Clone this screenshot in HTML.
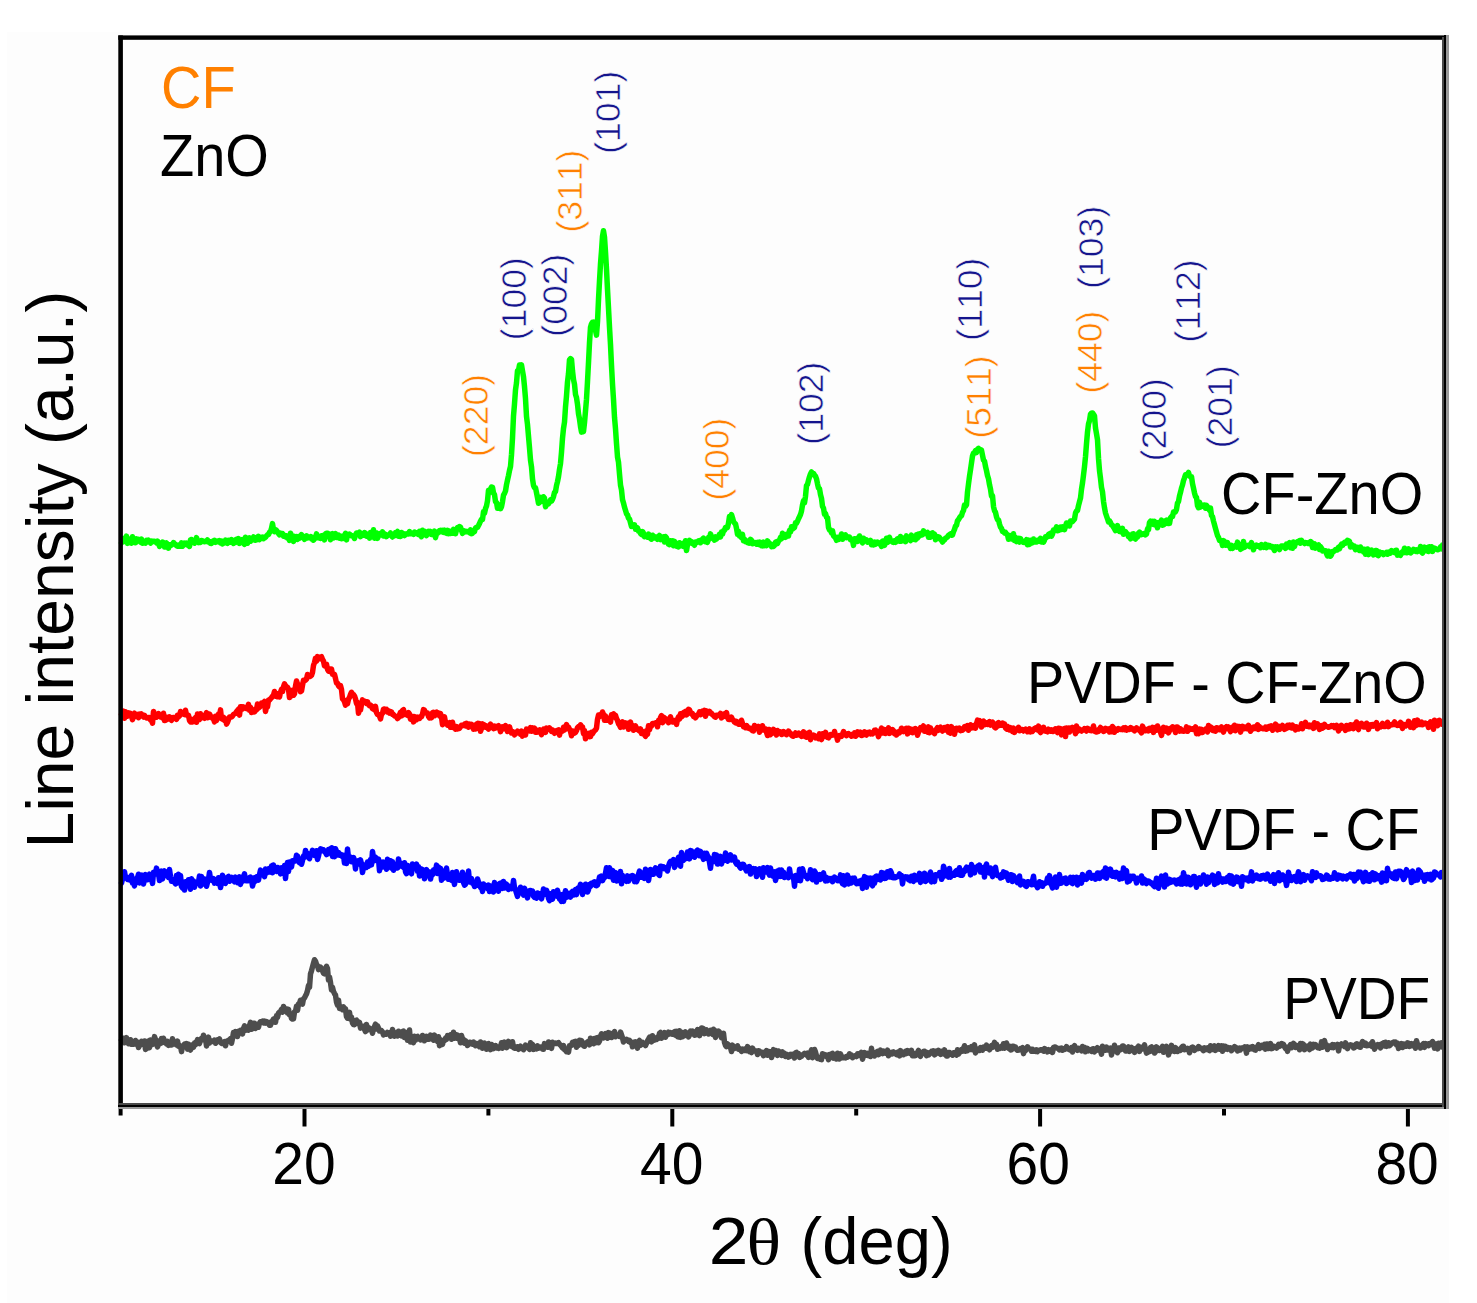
<!DOCTYPE html>
<html><head><meta charset="utf-8"><style>
html,body{margin:0;padding:0;background:#fff;width:1477px;height:1303px;overflow:hidden}
svg{display:block;position:absolute;left:0;top:0}
text{font-family:"Liberation Sans",sans-serif;font-kerning:none}
</style></head><body>
<svg width="1477" height="1303" viewBox="0 0 1477 1303">
<rect x="7" y="32" width="1442" height="1271" fill="#fdfdfd"/>
<g fill="none" stroke-width="5.5" stroke-linejoin="round" stroke-linecap="round">
<path d="M121.5,1040.1 122.5,1041.6 123.5,1038.2 124.5,1042.8 125.5,1040.3 126.5,1037.7 127.5,1040.3 128.5,1043.6 129.5,1043.2 130.5,1039.7 131.5,1044.3 132.5,1042.7 133.5,1044.2 134.5,1044.1 135.5,1040.5 136.5,1044.4 137.5,1042.1 138.5,1047.5 139.5,1045.6 140.5,1044.0 141.5,1041.4 142.5,1044.1 143.5,1044.4 144.5,1041.0 145.5,1049.5 146.5,1045.0 147.5,1048.2 148.5,1041.1 149.5,1047.7 150.5,1040.1 151.5,1041.6 152.5,1044.3 153.5,1042.8 154.5,1036.6 155.5,1039.4 156.5,1044.0 157.5,1046.9 158.5,1043.8 159.5,1040.8 160.5,1043.4 161.5,1038.6 162.5,1042.7 163.5,1038.2 164.5,1041.6 165.5,1041.5 166.5,1044.0 167.5,1041.4 168.5,1045.4 169.5,1042.1 170.5,1044.9 171.5,1045.0 172.5,1038.8 173.5,1043.7 174.5,1044.0 175.5,1042.2 176.5,1044.8 177.5,1041.1 178.5,1046.2 179.5,1046.4 180.5,1046.0 181.5,1051.6 182.5,1046.5 183.5,1045.9 184.5,1044.1 185.5,1046.7 186.5,1043.6 187.5,1049.1 188.5,1044.2 189.5,1046.0 190.5,1050.1 191.5,1047.6 192.5,1044.9 193.5,1047.2 194.5,1043.1 195.5,1044.7 196.5,1042.3 197.5,1039.6 198.5,1042.5 199.5,1043.5 200.5,1040.2 201.5,1038.3 202.5,1039.7 203.5,1035.2 204.5,1039.5 205.5,1038.4 206.5,1046.0 207.5,1039.6 208.5,1037.2 209.5,1043.1 210.5,1040.6 211.5,1041.1 212.5,1041.5 213.5,1041.5 214.5,1040.1 215.5,1043.3 216.5,1042.3 217.5,1039.9 218.5,1040.8 219.5,1039.0 220.5,1042.1 221.5,1043.4 222.5,1043.3 223.5,1043.4 224.5,1041.6 225.5,1045.8 226.5,1041.4 227.5,1041.7 228.5,1040.2 229.5,1040.4 230.5,1038.6 231.5,1043.2 232.5,1038.4 233.5,1032.5 234.5,1034.7 235.5,1031.5 236.5,1036.2 237.5,1036.5 238.5,1031.2 239.5,1033.0 240.5,1030.3 241.5,1031.2 242.5,1033.9 243.5,1028.5 244.5,1025.9 245.5,1030.3 246.5,1029.5 247.5,1029.5 248.5,1030.1 249.5,1025.6 250.5,1022.3 251.5,1029.3 252.5,1025.5 253.5,1023.3 254.5,1023.2 255.5,1028.5 256.5,1026.0 257.5,1026.0 258.5,1027.1 259.5,1023.1 260.5,1021.7 261.5,1022.1 262.5,1021.2 263.5,1022.9 264.5,1021.1 265.5,1023.1 266.5,1021.6 267.5,1022.3 268.5,1023.8 269.5,1025.3 270.5,1025.3 271.5,1021.4 272.5,1021.2 273.5,1019.0 274.5,1022.1 275.5,1022.3 276.5,1015.8 277.5,1017.5 278.5,1013.2 279.5,1012.1 280.5,1011.7 281.5,1009.4 282.5,1012.2 283.5,1006.5 284.5,1008.7 285.5,1010.6 286.5,1008.9 287.5,1013.0 288.5,1009.3 289.5,1014.7 290.5,1013.6 291.5,1018.5 292.5,1019.1 293.5,1018.9 294.5,1011.8 295.5,1011.2 296.5,1006.3 297.5,1010.3 298.5,1004.0 299.5,1003.3 300.5,1000.2 301.5,1003.1 302.5,1004.1 303.5,998.8 304.5,997.9 305.5,995.8 306.5,993.9 307.5,990.6 308.5,985.6 309.5,987.4 310.5,973.9 311.5,970.8 312.5,966.9 313.5,963.2 314.5,959.7 315.5,961.2 316.5,964.3 317.5,965.7 318.5,969.6 319.5,967.4 320.5,967.0 321.5,968.9 322.5,970.7 323.5,973.3 324.5,973.8 325.5,968.6 326.5,966.3 327.5,968.6 328.5,980.0 329.5,977.0 330.5,982.6 331.5,989.9 332.5,987.4 333.5,991.6 334.5,993.6 335.5,995.1 336.5,1002.2 337.5,1005.2 338.5,1000.2 339.5,1008.5 340.5,1006.7 341.5,1008.7 342.5,1009.6 343.5,1006.8 344.5,1009.8 345.5,1008.9 346.5,1016.6 347.5,1018.2 348.5,1014.3 349.5,1012.5 350.5,1019.2 351.5,1017.3 352.5,1023.0 353.5,1024.6 354.5,1024.7 355.5,1020.7 356.5,1020.1 357.5,1021.7 358.5,1023.7 359.5,1022.4 360.5,1028.1 361.5,1027.4 362.5,1026.4 363.5,1026.2 364.5,1029.3 365.5,1031.6 366.5,1024.4 367.5,1030.0 368.5,1029.1 369.5,1028.2 370.5,1029.1 371.5,1029.8 372.5,1033.3 373.5,1028.3 374.5,1026.5 375.5,1024.2 376.5,1028.9 377.5,1025.8 378.5,1028.1 379.5,1031.0 380.5,1030.6 381.5,1030.6 382.5,1031.9 383.5,1035.0 384.5,1033.0 385.5,1033.7 386.5,1034.2 387.5,1032.5 388.5,1034.1 389.5,1032.8 390.5,1036.1 391.5,1034.7 392.5,1029.5 393.5,1033.1 394.5,1036.2 395.5,1033.1 396.5,1032.6 397.5,1036.0 398.5,1031.2 399.5,1033.9 400.5,1035.2 401.5,1035.8 402.5,1031.5 403.5,1031.1 404.5,1037.5 405.5,1032.4 406.5,1034.2 407.5,1040.3 408.5,1033.8 409.5,1030.0 410.5,1041.9 411.5,1038.1 412.5,1036.8 413.5,1042.7 414.5,1036.3 415.5,1040.1 416.5,1036.9 417.5,1036.3 418.5,1038.5 419.5,1039.0 420.5,1039.9 421.5,1039.5 422.5,1035.5 423.5,1036.3 424.5,1040.8 425.5,1037.6 426.5,1036.3 427.5,1039.1 428.5,1039.3 429.5,1039.1 430.5,1035.1 431.5,1035.8 432.5,1038.8 433.5,1040.2 434.5,1035.1 435.5,1037.2 436.5,1038.2 437.5,1041.4 438.5,1036.8 439.5,1045.7 440.5,1039.7 441.5,1040.9 442.5,1044.4 443.5,1040.6 444.5,1040.6 445.5,1038.2 446.5,1039.4 447.5,1035.6 448.5,1037.5 449.5,1037.5 450.5,1034.8 451.5,1039.2 452.5,1037.7 453.5,1032.3 454.5,1038.3 455.5,1034.5 456.5,1038.1 457.5,1035.2 458.5,1036.6 459.5,1038.8 460.5,1042.8 461.5,1035.5 462.5,1038.7 463.5,1039.3 464.5,1043.2 465.5,1040.7 466.5,1042.8 467.5,1045.4 468.5,1044.6 469.5,1042.2 470.5,1042.5 471.5,1043.0 472.5,1044.2 473.5,1042.1 474.5,1044.1 475.5,1045.7 476.5,1043.4 477.5,1043.6 478.5,1045.4 479.5,1046.7 480.5,1042.0 481.5,1042.9 482.5,1048.2 483.5,1045.3 484.5,1043.0 485.5,1045.8 486.5,1049.3 487.5,1044.3 488.5,1043.6 489.5,1045.3 490.5,1049.6 491.5,1044.5 492.5,1047.3 493.5,1048.5 494.5,1047.7 495.5,1045.5 496.5,1047.9 497.5,1046.8 498.5,1048.4 499.5,1047.5 500.5,1047.0 501.5,1042.8 502.5,1048.2 503.5,1046.5 504.5,1042.1 505.5,1046.8 506.5,1047.6 507.5,1046.7 508.5,1041.4 509.5,1045.3 510.5,1044.8 511.5,1046.3 512.5,1041.8 513.5,1047.6 514.5,1048.2 515.5,1048.3 516.5,1046.9 517.5,1046.8 518.5,1049.3 519.5,1048.0 520.5,1046.1 521.5,1047.7 522.5,1048.6 523.5,1049.7 524.5,1048.1 525.5,1045.2 526.5,1045.9 527.5,1047.5 528.5,1047.7 529.5,1049.3 530.5,1042.8 531.5,1045.4 532.5,1044.4 533.5,1049.4 534.5,1048.7 535.5,1047.8 536.5,1048.8 537.5,1045.8 538.5,1048.2 539.5,1047.2 540.5,1047.2 541.5,1046.8 542.5,1049.1 543.5,1049.3 544.5,1043.6 545.5,1045.4 546.5,1046.4 547.5,1047.2 548.5,1042.0 549.5,1043.2 550.5,1044.2 551.5,1048.4 552.5,1042.2 553.5,1042.9 554.5,1043.5 555.5,1043.1 556.5,1043.5 557.5,1043.0 558.5,1042.6 559.5,1044.2 560.5,1045.1 561.5,1046.5 562.5,1047.9 563.5,1045.6 564.5,1049.6 565.5,1050.2 566.5,1051.7 567.5,1051.1 568.5,1052.1 569.5,1045.7 570.5,1045.8 571.5,1045.3 572.5,1042.3 573.5,1042.3 574.5,1041.7 575.5,1041.4 576.5,1047.3 577.5,1042.1 578.5,1045.4 579.5,1040.3 580.5,1042.7 581.5,1040.7 582.5,1042.8 583.5,1045.7 584.5,1046.2 585.5,1043.7 586.5,1042.9 587.5,1041.9 588.5,1042.7 589.5,1044.8 590.5,1038.2 591.5,1041.0 592.5,1039.5 593.5,1043.7 594.5,1038.5 595.5,1042.7 596.5,1037.9 597.5,1037.6 598.5,1042.7 599.5,1041.1 600.5,1036.3 601.5,1033.9 602.5,1035.1 603.5,1037.9 604.5,1036.1 605.5,1033.7 606.5,1036.6 607.5,1038.2 608.5,1032.6 609.5,1034.9 610.5,1033.3 611.5,1037.5 612.5,1035.4 613.5,1033.7 614.5,1031.6 615.5,1036.7 616.5,1034.7 617.5,1035.6 618.5,1035.0 619.5,1036.4 620.5,1032.1 621.5,1034.7 622.5,1037.9 623.5,1042.0 624.5,1039.7 625.5,1039.7 626.5,1039.3 627.5,1040.0 628.5,1041.4 629.5,1040.4 630.5,1042.5 631.5,1042.4 632.5,1046.8 633.5,1042.4 634.5,1045.0 635.5,1041.8 636.5,1044.9 637.5,1048.2 638.5,1041.7 639.5,1040.5 640.5,1045.3 641.5,1043.2 642.5,1042.5 643.5,1044.1 644.5,1043.6 645.5,1045.5 646.5,1043.4 647.5,1040.8 648.5,1039.1 649.5,1037.2 650.5,1037.9 651.5,1041.9 652.5,1035.7 653.5,1038.2 654.5,1040.0 655.5,1038.0 656.5,1039.4 657.5,1037.1 658.5,1038.4 659.5,1033.4 660.5,1032.5 661.5,1038.3 662.5,1034.8 663.5,1034.1 664.5,1032.6 665.5,1037.2 666.5,1034.8 667.5,1034.7 668.5,1032.2 669.5,1033.8 670.5,1032.6 671.5,1033.3 672.5,1034.2 673.5,1032.4 674.5,1031.7 675.5,1035.2 676.5,1031.4 677.5,1036.6 678.5,1037.0 679.5,1030.8 680.5,1037.4 681.5,1032.2 682.5,1036.8 683.5,1032.8 684.5,1035.7 685.5,1031.8 686.5,1035.3 687.5,1033.9 688.5,1036.9 689.5,1034.9 690.5,1031.1 691.5,1033.5 692.5,1031.1 693.5,1032.6 694.5,1035.2 695.5,1035.1 696.5,1031.9 697.5,1029.6 698.5,1031.4 699.5,1035.6 700.5,1030.8 701.5,1028.0 702.5,1028.2 703.5,1028.7 704.5,1033.6 705.5,1030.7 706.5,1029.9 707.5,1032.4 708.5,1033.9 709.5,1031.7 710.5,1030.5 711.5,1032.8 712.5,1034.3 713.5,1029.3 714.5,1030.1 715.5,1037.5 716.5,1034.4 717.5,1034.6 718.5,1031.1 719.5,1032.2 720.5,1034.1 721.5,1037.8 722.5,1035.9 723.5,1033.3 724.5,1042.4 725.5,1045.5 726.5,1046.7 727.5,1043.8 728.5,1045.2 729.5,1046.4 730.5,1047.6 731.5,1051.5 732.5,1045.1 733.5,1046.7 734.5,1048.4 735.5,1047.4 736.5,1047.7 737.5,1045.8 738.5,1049.2 739.5,1048.6 740.5,1049.7 741.5,1051.4 742.5,1049.0 743.5,1049.5 744.5,1050.4 745.5,1049.0 746.5,1050.5 747.5,1046.6 748.5,1048.6 749.5,1051.6 750.5,1051.1 751.5,1052.5 752.5,1048.1 753.5,1050.0 754.5,1051.0 755.5,1051.1 756.5,1051.0 757.5,1054.5 758.5,1050.7 759.5,1051.1 760.5,1053.0 761.5,1053.0 762.5,1052.4 763.5,1055.7 764.5,1053.5 765.5,1052.0 766.5,1050.6 767.5,1055.2 768.5,1051.5 769.5,1053.7 770.5,1051.9 771.5,1057.5 772.5,1054.7 773.5,1049.6 774.5,1053.9 775.5,1050.5 776.5,1052.3 777.5,1055.3 778.5,1051.0 779.5,1054.4 780.5,1053.7 781.5,1055.4 782.5,1051.9 783.5,1055.3 784.5,1053.3 785.5,1056.3 786.5,1054.3 787.5,1055.6 788.5,1057.1 789.5,1056.6 790.5,1054.4 791.5,1055.9 792.5,1054.5 793.5,1055.4 794.5,1058.0 795.5,1052.9 796.5,1052.3 797.5,1055.7 798.5,1053.6 799.5,1057.4 800.5,1056.7 801.5,1056.2 802.5,1054.9 803.5,1054.1 804.5,1053.3 805.5,1054.0 806.5,1055.1 807.5,1053.2 808.5,1057.4 809.5,1056.6 810.5,1052.6 811.5,1049.8 812.5,1057.7 813.5,1052.9 814.5,1049.5 815.5,1052.1 816.5,1056.0 817.5,1058.4 818.5,1057.5 819.5,1058.7 820.5,1059.4 821.5,1059.6 822.5,1053.8 823.5,1055.4 824.5,1054.6 825.5,1056.0 826.5,1055.2 827.5,1056.5 828.5,1059.7 829.5,1054.5 830.5,1057.5 831.5,1054.0 832.5,1053.3 833.5,1058.1 834.5,1055.7 835.5,1056.1 836.5,1059.0 837.5,1053.3 838.5,1056.2 839.5,1059.0 840.5,1053.9 841.5,1056.5 842.5,1057.8 843.5,1057.8 844.5,1057.2 845.5,1057.8 846.5,1056.7 847.5,1057.3 848.5,1056.4 849.5,1053.8 850.5,1055.8 851.5,1055.2 852.5,1057.7 853.5,1056.4 854.5,1056.3 855.5,1055.6 856.5,1056.5 857.5,1053.9 858.5,1055.5 859.5,1053.5 860.5,1054.1 861.5,1052.5 862.5,1059.2 863.5,1055.8 864.5,1052.6 865.5,1053.7 866.5,1055.0 867.5,1053.4 868.5,1055.7 869.5,1055.0 870.5,1056.4 871.5,1048.3 872.5,1055.5 873.5,1054.4 874.5,1055.9 875.5,1052.6 876.5,1052.2 877.5,1051.4 878.5,1054.6 879.5,1053.9 880.5,1050.1 881.5,1052.4 882.5,1053.5 883.5,1051.1 884.5,1052.8 885.5,1053.3 886.5,1052.3 887.5,1050.2 888.5,1055.8 889.5,1053.9 890.5,1054.1 891.5,1052.3 892.5,1053.8 893.5,1052.0 894.5,1053.1 895.5,1053.7 896.5,1054.5 897.5,1052.2 898.5,1051.8 899.5,1055.9 900.5,1050.6 901.5,1053.7 902.5,1053.1 903.5,1054.7 904.5,1052.5 905.5,1051.3 906.5,1053.6 907.5,1050.6 908.5,1051.2 909.5,1053.2 910.5,1053.5 911.5,1050.4 912.5,1055.8 913.5,1053.2 914.5,1055.7 915.5,1055.5 916.5,1053.4 917.5,1052.5 918.5,1050.4 919.5,1055.2 920.5,1056.3 921.5,1053.6 922.5,1053.4 923.5,1051.4 924.5,1051.2 925.5,1053.0 926.5,1055.6 927.5,1052.7 928.5,1055.0 929.5,1054.0 930.5,1053.0 931.5,1051.5 932.5,1052.4 933.5,1050.8 934.5,1054.9 935.5,1054.1 936.5,1051.2 937.5,1051.8 938.5,1050.5 939.5,1053.4 940.5,1054.3 941.5,1051.3 942.5,1052.2 943.5,1053.8 944.5,1049.8 945.5,1053.5 946.5,1056.0 947.5,1056.1 948.5,1052.5 949.5,1052.6 950.5,1054.1 951.5,1053.8 952.5,1055.2 953.5,1052.7 954.5,1052.8 955.5,1052.6 956.5,1055.1 957.5,1049.8 958.5,1054.1 959.5,1051.9 960.5,1051.9 961.5,1049.6 962.5,1051.0 963.5,1049.2 964.5,1045.7 965.5,1051.2 966.5,1048.0 967.5,1050.6 968.5,1047.8 969.5,1049.5 970.5,1049.3 971.5,1046.6 972.5,1049.8 973.5,1048.5 974.5,1044.8 975.5,1052.9 976.5,1050.1 977.5,1049.7 978.5,1049.0 979.5,1050.4 980.5,1047.7 981.5,1049.9 982.5,1050.2 983.5,1047.2 984.5,1048.2 985.5,1048.2 986.5,1045.0 987.5,1048.4 988.5,1047.4 989.5,1049.8 990.5,1047.7 991.5,1045.6 992.5,1047.4 993.5,1046.1 994.5,1042.4 995.5,1046.5 996.5,1044.3 997.5,1049.2 998.5,1047.3 999.5,1048.4 1000.5,1047.3 1001.5,1046.3 1002.5,1048.0 1003.5,1043.7 1004.5,1048.2 1005.5,1046.5 1006.5,1043.0 1007.5,1046.6 1008.5,1048.2 1009.5,1046.2 1010.5,1049.9 1011.5,1049.8 1012.5,1046.3 1013.5,1046.2 1014.5,1047.4 1015.5,1047.0 1016.5,1049.5 1017.5,1050.3 1018.5,1049.7 1019.5,1049.9 1020.5,1048.6 1021.5,1048.6 1022.5,1047.7 1023.5,1053.6 1024.5,1051.1 1025.5,1050.6 1026.5,1048.3 1027.5,1046.8 1028.5,1048.3 1029.5,1049.0 1030.5,1049.2 1031.5,1051.2 1032.5,1049.3 1033.5,1051.3 1034.5,1051.1 1035.5,1051.4 1036.5,1049.9 1037.5,1051.6 1038.5,1050.4 1039.5,1050.4 1040.5,1049.7 1041.5,1049.8 1042.5,1050.4 1043.5,1051.2 1044.5,1048.6 1045.5,1049.3 1046.5,1049.9 1047.5,1051.9 1048.5,1049.7 1049.5,1050.9 1050.5,1051.4 1051.5,1049.6 1052.5,1052.5 1053.5,1047.6 1054.5,1046.9 1055.5,1047.2 1056.5,1047.8 1057.5,1048.2 1058.5,1048.7 1059.5,1049.9 1060.5,1048.3 1061.5,1048.1 1062.5,1050.2 1063.5,1048.8 1064.5,1049.5 1065.5,1048.3 1066.5,1046.6 1067.5,1049.0 1068.5,1048.9 1069.5,1049.8 1070.5,1049.1 1071.5,1047.6 1072.5,1052.0 1073.5,1046.9 1074.5,1045.7 1075.5,1048.0 1076.5,1048.3 1077.5,1050.3 1078.5,1048.3 1079.5,1049.4 1080.5,1049.9 1081.5,1050.8 1082.5,1046.5 1083.5,1050.1 1084.5,1047.3 1085.5,1051.8 1086.5,1048.3 1087.5,1048.5 1088.5,1050.8 1089.5,1049.8 1090.5,1049.7 1091.5,1051.3 1092.5,1049.0 1093.5,1048.8 1094.5,1051.9 1095.5,1049.0 1096.5,1050.3 1097.5,1047.7 1098.5,1049.9 1099.5,1049.4 1100.5,1050.7 1101.5,1054.2 1102.5,1046.3 1103.5,1048.1 1104.5,1049.3 1105.5,1050.2 1106.5,1047.1 1107.5,1049.8 1108.5,1048.3 1109.5,1050.0 1110.5,1048.0 1111.5,1055.0 1112.5,1050.2 1113.5,1051.1 1114.5,1045.3 1115.5,1048.2 1116.5,1049.3 1117.5,1052.8 1118.5,1048.0 1119.5,1050.3 1120.5,1047.8 1121.5,1049.3 1122.5,1045.9 1123.5,1045.9 1124.5,1048.0 1125.5,1051.0 1126.5,1050.9 1127.5,1049.0 1128.5,1046.9 1129.5,1051.4 1130.5,1048.6 1131.5,1047.5 1132.5,1048.5 1133.5,1048.7 1134.5,1052.4 1135.5,1049.1 1136.5,1048.1 1137.5,1048.3 1138.5,1046.2 1139.5,1051.4 1140.5,1047.2 1141.5,1049.3 1142.5,1047.2 1143.5,1047.5 1144.5,1044.9 1145.5,1049.1 1146.5,1053.1 1147.5,1052.4 1148.5,1049.8 1149.5,1051.6 1150.5,1047.6 1151.5,1046.9 1152.5,1051.2 1153.5,1047.8 1154.5,1053.0 1155.5,1051.7 1156.5,1046.9 1157.5,1048.4 1158.5,1048.4 1159.5,1050.5 1160.5,1048.4 1161.5,1049.1 1162.5,1046.4 1163.5,1052.2 1164.5,1050.9 1165.5,1049.4 1166.5,1046.3 1167.5,1049.6 1168.5,1054.9 1169.5,1050.1 1170.5,1051.6 1171.5,1045.4 1172.5,1048.8 1173.5,1049.0 1174.5,1051.4 1175.5,1047.6 1176.5,1051.0 1177.5,1051.5 1178.5,1049.6 1179.5,1049.2 1180.5,1050.3 1181.5,1047.6 1182.5,1046.5 1183.5,1046.3 1184.5,1049.8 1185.5,1048.9 1186.5,1049.2 1187.5,1048.4 1188.5,1049.2 1189.5,1052.8 1190.5,1048.8 1191.5,1047.7 1192.5,1047.1 1193.5,1047.5 1194.5,1050.3 1195.5,1048.9 1196.5,1048.5 1197.5,1048.8 1198.5,1046.5 1199.5,1047.5 1200.5,1048.4 1201.5,1048.3 1202.5,1049.5 1203.5,1050.7 1204.5,1047.8 1205.5,1049.5 1206.5,1049.6 1207.5,1047.8 1208.5,1049.9 1209.5,1050.6 1210.5,1045.8 1211.5,1049.5 1212.5,1049.5 1213.5,1049.3 1214.5,1045.8 1215.5,1050.4 1216.5,1048.3 1217.5,1047.0 1218.5,1045.6 1219.5,1049.2 1220.5,1048.1 1221.5,1045.8 1222.5,1051.3 1223.5,1046.0 1224.5,1049.4 1225.5,1046.4 1226.5,1047.8 1227.5,1049.3 1228.5,1047.6 1229.5,1049.0 1230.5,1048.0 1231.5,1050.7 1232.5,1049.3 1233.5,1048.8 1234.5,1046.6 1235.5,1047.1 1236.5,1048.2 1237.5,1050.9 1238.5,1050.5 1239.5,1048.1 1240.5,1049.8 1241.5,1047.9 1242.5,1048.0 1243.5,1047.7 1244.5,1047.0 1245.5,1048.5 1246.5,1053.1 1247.5,1046.9 1248.5,1049.5 1249.5,1049.0 1250.5,1047.5 1251.5,1048.7 1252.5,1046.5 1253.5,1047.5 1254.5,1049.9 1255.5,1050.1 1256.5,1047.2 1257.5,1046.9 1258.5,1044.7 1259.5,1048.5 1260.5,1046.1 1261.5,1045.5 1262.5,1047.4 1263.5,1046.9 1264.5,1044.4 1265.5,1049.1 1266.5,1043.9 1267.5,1043.9 1268.5,1048.5 1269.5,1046.2 1270.5,1043.6 1271.5,1048.6 1272.5,1048.3 1273.5,1046.3 1274.5,1046.5 1275.5,1046.9 1276.5,1048.1 1277.5,1046.3 1278.5,1044.5 1279.5,1046.3 1280.5,1045.6 1281.5,1043.5 1282.5,1045.5 1283.5,1044.5 1284.5,1046.6 1285.5,1048.5 1286.5,1047.2 1287.5,1051.4 1288.5,1047.1 1289.5,1046.6 1290.5,1044.7 1291.5,1047.8 1292.5,1046.9 1293.5,1043.3 1294.5,1045.1 1295.5,1047.4 1296.5,1045.4 1297.5,1046.9 1298.5,1046.6 1299.5,1049.8 1300.5,1043.5 1301.5,1045.8 1302.5,1043.7 1303.5,1044.5 1304.5,1049.6 1305.5,1047.7 1306.5,1047.1 1307.5,1045.9 1308.5,1046.1 1309.5,1049.6 1310.5,1044.1 1311.5,1048.3 1312.5,1047.9 1313.5,1044.3 1314.5,1046.4 1315.5,1044.7 1316.5,1046.0 1317.5,1047.5 1318.5,1046.4 1319.5,1048.1 1320.5,1047.2 1321.5,1041.9 1322.5,1047.3 1323.5,1043.5 1324.5,1040.6 1325.5,1045.2 1326.5,1044.8 1327.5,1049.5 1328.5,1047.6 1329.5,1047.3 1330.5,1045.8 1331.5,1047.3 1332.5,1044.5 1333.5,1047.7 1334.5,1044.9 1335.5,1045.4 1336.5,1046.2 1337.5,1044.4 1338.5,1050.9 1339.5,1046.0 1340.5,1044.9 1341.5,1043.9 1342.5,1044.4 1343.5,1045.5 1344.5,1046.5 1345.5,1042.9 1346.5,1044.7 1347.5,1048.7 1348.5,1046.0 1349.5,1045.5 1350.5,1044.8 1351.5,1045.1 1352.5,1045.7 1353.5,1047.9 1354.5,1047.8 1355.5,1044.5 1356.5,1043.9 1357.5,1046.2 1358.5,1044.4 1359.5,1047.1 1360.5,1047.3 1361.5,1044.0 1362.5,1041.6 1363.5,1042.9 1364.5,1045.1 1365.5,1043.2 1366.5,1045.8 1367.5,1045.6 1368.5,1045.3 1369.5,1044.9 1370.5,1043.9 1371.5,1046.2 1372.5,1041.8 1373.5,1045.9 1374.5,1049.1 1375.5,1047.4 1376.5,1045.1 1377.5,1044.6 1378.5,1045.7 1379.5,1044.8 1380.5,1047.9 1381.5,1044.1 1382.5,1044.7 1383.5,1042.9 1384.5,1046.0 1385.5,1042.2 1386.5,1046.4 1387.5,1045.9 1388.5,1042.7 1389.5,1045.7 1390.5,1044.5 1391.5,1044.0 1392.5,1042.6 1393.5,1042.1 1394.5,1042.4 1395.5,1042.0 1396.5,1044.9 1397.5,1043.1 1398.5,1048.5 1399.5,1045.5 1400.5,1046.8 1401.5,1043.6 1402.5,1047.5 1403.5,1044.0 1404.5,1046.5 1405.5,1045.4 1406.5,1046.0 1407.5,1042.8 1408.5,1043.1 1409.5,1046.4 1410.5,1045.5 1411.5,1043.7 1412.5,1045.7 1413.5,1044.9 1414.5,1043.7 1415.5,1048.2 1416.5,1040.7 1417.5,1044.2 1418.5,1046.2 1419.5,1045.4 1420.5,1048.0 1421.5,1045.7 1422.5,1045.5 1423.5,1043.5 1424.5,1047.4 1425.5,1043.6 1426.5,1044.0 1427.5,1044.0 1428.5,1045.7 1429.5,1043.6 1430.5,1044.5 1431.5,1043.7 1432.5,1041.6 1433.5,1043.4 1434.5,1048.1 1435.5,1043.9 1436.5,1044.8 1437.5,1048.9 1438.5,1043.2 1439.5,1045.7 1440.5,1046.6 1441.5,1042.9 1442.5,1047.1" stroke="#4d4d4d"/>
<path d="M121.5,883.0 122.5,878.8 123.5,878.2 124.5,871.8 125.5,877.9 126.5,878.0 127.5,879.3 128.5,877.6 129.5,879.8 130.5,878.3 131.5,875.4 132.5,883.1 133.5,883.0 134.5,885.9 135.5,880.0 136.5,878.4 137.5,877.8 138.5,874.2 139.5,883.0 140.5,875.6 141.5,875.2 142.5,878.4 143.5,884.0 144.5,879.4 145.5,874.6 146.5,875.4 147.5,879.7 148.5,876.6 149.5,874.2 150.5,875.9 151.5,879.1 152.5,883.4 153.5,872.2 154.5,874.3 155.5,873.7 156.5,868.1 157.5,873.4 158.5,873.1 159.5,880.6 160.5,876.2 161.5,871.1 162.5,879.0 163.5,875.6 164.5,870.9 165.5,874.9 166.5,875.0 167.5,874.1 168.5,877.4 169.5,869.6 170.5,876.5 171.5,881.1 172.5,880.6 173.5,881.7 174.5,882.1 175.5,883.8 176.5,875.4 177.5,882.9 178.5,874.3 179.5,879.4 180.5,875.6 181.5,886.5 182.5,888.0 183.5,883.1 184.5,890.1 185.5,881.7 186.5,884.4 187.5,884.2 188.5,879.7 189.5,884.5 190.5,889.3 191.5,878.7 192.5,885.0 193.5,881.0 194.5,887.3 195.5,882.6 196.5,883.2 197.5,883.0 198.5,881.7 199.5,876.1 200.5,885.9 201.5,876.6 202.5,882.3 203.5,883.8 204.5,879.0 205.5,882.6 206.5,886.3 207.5,882.3 208.5,879.4 209.5,872.5 210.5,879.1 211.5,880.3 212.5,880.5 213.5,878.7 214.5,883.1 215.5,879.6 216.5,881.0 217.5,883.4 218.5,877.8 219.5,879.4 220.5,887.6 221.5,882.9 222.5,875.2 223.5,879.2 224.5,881.2 225.5,883.4 226.5,879.6 227.5,877.2 228.5,876.5 229.5,881.2 230.5,880.2 231.5,877.4 232.5,878.6 233.5,877.9 234.5,881.9 235.5,877.1 236.5,881.2 237.5,882.5 238.5,881.4 239.5,876.9 240.5,884.4 241.5,877.5 242.5,881.3 243.5,877.2 244.5,873.8 245.5,880.5 246.5,880.7 247.5,879.5 248.5,880.7 249.5,877.5 250.5,877.1 251.5,879.0 252.5,886.1 253.5,882.3 254.5,877.7 255.5,881.0 256.5,876.9 257.5,876.3 258.5,880.1 259.5,874.7 260.5,870.1 261.5,872.0 262.5,874.5 263.5,873.8 264.5,876.6 265.5,869.1 266.5,873.2 267.5,871.4 268.5,868.9 269.5,871.9 270.5,870.7 271.5,866.1 272.5,872.8 273.5,865.1 274.5,869.6 275.5,869.6 276.5,871.3 277.5,867.5 278.5,870.1 279.5,869.9 280.5,873.9 281.5,867.9 282.5,870.8 283.5,869.6 284.5,865.6 285.5,878.5 286.5,868.3 287.5,862.6 288.5,871.4 289.5,862.0 290.5,866.0 291.5,866.8 292.5,860.9 293.5,861.1 294.5,860.1 295.5,860.9 296.5,855.3 297.5,856.1 298.5,859.3 299.5,862.8 300.5,861.0 301.5,864.3 302.5,860.5 303.5,856.0 304.5,857.1 305.5,850.4 306.5,853.8 307.5,853.3 308.5,857.5 309.5,858.6 310.5,854.2 311.5,853.9 312.5,850.3 313.5,854.8 314.5,855.5 315.5,855.6 316.5,850.7 317.5,859.4 318.5,856.0 319.5,851.0 320.5,848.9 321.5,849.2 322.5,850.6 323.5,849.9 324.5,851.6 325.5,852.6 326.5,854.6 327.5,853.9 328.5,849.6 329.5,851.3 330.5,848.7 331.5,848.0 332.5,856.4 333.5,848.5 334.5,856.7 335.5,848.8 336.5,851.3 337.5,855.0 338.5,852.5 339.5,855.1 340.5,854.3 341.5,854.7 342.5,856.6 343.5,855.3 344.5,863.1 345.5,857.2 346.5,863.6 347.5,848.9 348.5,858.0 349.5,859.9 350.5,857.1 351.5,861.8 352.5,860.4 353.5,857.5 354.5,860.2 355.5,868.9 356.5,861.2 357.5,862.5 358.5,861.0 359.5,863.9 360.5,859.8 361.5,863.8 362.5,872.6 363.5,867.4 364.5,865.2 365.5,865.7 366.5,867.3 367.5,862.1 368.5,866.3 369.5,862.6 370.5,859.6 371.5,864.9 372.5,851.4 373.5,857.6 374.5,860.7 375.5,857.1 376.5,860.0 377.5,858.8 378.5,859.1 379.5,870.7 380.5,864.1 381.5,862.2 382.5,867.0 383.5,862.1 384.5,866.2 385.5,864.7 386.5,869.2 387.5,859.3 388.5,866.8 389.5,864.8 390.5,860.7 391.5,868.2 392.5,861.8 393.5,870.2 394.5,866.6 395.5,867.2 396.5,865.2 397.5,868.0 398.5,858.9 399.5,865.4 400.5,863.1 401.5,866.2 402.5,865.2 403.5,867.4 404.5,862.7 405.5,871.8 406.5,873.6 407.5,865.4 408.5,866.4 409.5,867.7 410.5,871.3 411.5,873.8 412.5,863.9 413.5,866.3 414.5,865.3 415.5,865.5 416.5,864.2 417.5,871.3 418.5,866.7 419.5,876.0 420.5,874.7 421.5,869.0 422.5,869.6 423.5,871.6 424.5,878.8 425.5,871.6 426.5,869.6 427.5,874.2 428.5,875.5 429.5,871.8 430.5,879.1 431.5,874.3 432.5,874.7 433.5,870.1 434.5,872.6 435.5,872.1 436.5,865.1 437.5,873.6 438.5,866.9 439.5,872.9 440.5,868.4 441.5,880.3 442.5,875.1 443.5,877.2 444.5,877.8 445.5,870.8 446.5,868.1 447.5,874.9 448.5,879.3 449.5,877.0 450.5,879.6 451.5,880.3 452.5,872.6 453.5,878.7 454.5,884.4 455.5,876.3 456.5,871.7 457.5,877.8 458.5,877.2 459.5,880.3 460.5,876.1 461.5,879.6 462.5,872.2 463.5,882.5 464.5,885.1 465.5,884.3 466.5,875.3 467.5,881.6 468.5,871.0 469.5,882.0 470.5,881.2 471.5,878.5 472.5,883.3 473.5,883.2 474.5,886.5 475.5,884.4 476.5,885.4 477.5,878.9 478.5,882.0 479.5,884.6 480.5,887.4 481.5,886.5 482.5,891.5 483.5,883.9 484.5,886.0 485.5,887.7 486.5,886.1 487.5,888.6 488.5,885.1 489.5,891.6 490.5,886.0 491.5,890.7 492.5,887.0 493.5,892.0 494.5,882.6 495.5,888.9 496.5,885.8 497.5,888.0 498.5,891.2 499.5,883.7 500.5,883.1 501.5,884.3 502.5,888.4 503.5,881.5 504.5,888.1 505.5,883.7 506.5,884.3 507.5,887.0 508.5,889.5 509.5,886.4 510.5,887.0 511.5,888.6 512.5,888.0 513.5,880.4 514.5,887.8 515.5,889.7 516.5,893.2 517.5,896.4 518.5,892.1 519.5,890.4 520.5,887.2 521.5,890.8 522.5,893.2 523.5,895.0 524.5,888.3 525.5,892.1 526.5,894.3 527.5,897.9 528.5,893.0 529.5,890.7 530.5,890.5 531.5,891.9 532.5,891.2 533.5,896.2 534.5,897.3 535.5,896.4 536.5,898.1 537.5,893.0 538.5,895.9 539.5,893.5 540.5,895.0 541.5,898.9 542.5,894.9 543.5,889.0 544.5,894.3 545.5,892.8 546.5,890.3 547.5,892.7 548.5,898.4 549.5,900.7 550.5,893.7 551.5,898.6 552.5,899.2 553.5,891.7 554.5,895.3 555.5,895.3 556.5,896.0 557.5,890.3 558.5,894.4 559.5,898.9 560.5,899.6 561.5,901.4 562.5,894.4 563.5,901.4 564.5,897.4 565.5,890.7 566.5,897.2 567.5,893.3 568.5,895.8 569.5,893.4 570.5,897.1 571.5,893.6 572.5,891.4 573.5,895.0 574.5,892.2 575.5,889.6 576.5,894.6 577.5,888.8 578.5,887.7 579.5,887.7 580.5,884.4 581.5,887.1 582.5,894.5 583.5,885.4 584.5,888.0 585.5,884.2 586.5,885.5 587.5,892.0 588.5,889.8 589.5,884.6 590.5,886.3 591.5,883.3 592.5,883.1 593.5,882.3 594.5,881.9 595.5,885.4 596.5,885.8 597.5,884.9 598.5,881.9 599.5,877.1 600.5,880.1 601.5,876.1 602.5,880.6 603.5,878.3 604.5,877.7 605.5,873.2 606.5,867.7 607.5,875.9 608.5,876.4 609.5,867.8 610.5,873.3 611.5,877.1 612.5,870.5 613.5,880.2 614.5,874.2 615.5,872.6 616.5,881.0 617.5,878.1 618.5,875.5 619.5,880.6 620.5,871.6 621.5,883.8 622.5,875.5 623.5,879.1 624.5,877.0 625.5,879.8 626.5,881.3 627.5,875.9 628.5,881.1 629.5,877.7 630.5,876.5 631.5,878.0 632.5,875.5 633.5,876.2 634.5,881.6 635.5,878.0 636.5,881.8 637.5,879.3 638.5,874.3 639.5,871.1 640.5,874.5 641.5,877.2 642.5,876.0 643.5,872.9 644.5,878.4 645.5,869.3 646.5,870.4 647.5,874.4 648.5,880.5 649.5,874.5 650.5,869.5 651.5,874.1 652.5,874.0 653.5,874.3 654.5,869.6 655.5,867.9 656.5,870.4 657.5,870.9 658.5,874.3 659.5,875.4 660.5,866.2 661.5,866.5 662.5,867.6 663.5,866.8 664.5,868.8 665.5,868.6 666.5,867.7 667.5,871.0 668.5,866.1 669.5,863.2 670.5,861.4 671.5,862.9 672.5,862.6 673.5,859.7 674.5,867.4 675.5,865.3 676.5,862.7 677.5,860.4 678.5,857.3 679.5,858.5 680.5,866.2 681.5,852.5 682.5,859.1 683.5,860.2 684.5,857.7 685.5,855.7 686.5,858.5 687.5,852.0 688.5,856.6 689.5,858.8 690.5,850.6 691.5,850.9 692.5,853.6 693.5,856.1 694.5,857.2 695.5,855.2 696.5,851.2 697.5,850.1 698.5,854.8 699.5,855.7 700.5,851.4 701.5,855.5 702.5,856.7 703.5,859.3 704.5,853.2 705.5,858.3 706.5,853.2 707.5,855.8 708.5,857.1 709.5,862.3 710.5,868.2 711.5,858.9 712.5,859.8 713.5,861.6 714.5,854.4 715.5,861.2 716.5,855.0 717.5,864.1 718.5,863.5 719.5,860.5 720.5,856.4 721.5,864.0 722.5,859.5 723.5,858.9 724.5,860.3 725.5,853.0 726.5,859.5 727.5,861.2 728.5,859.0 729.5,858.4 730.5,854.9 731.5,860.0 732.5,858.8 733.5,858.5 734.5,857.2 735.5,862.1 736.5,864.0 737.5,862.0 738.5,864.3 739.5,866.5 740.5,868.1 741.5,864.7 742.5,864.2 743.5,864.4 744.5,866.5 745.5,869.0 746.5,870.9 747.5,867.3 748.5,869.7 749.5,866.7 750.5,874.1 751.5,869.2 752.5,871.7 753.5,868.6 754.5,870.1 755.5,869.0 756.5,876.6 757.5,872.6 758.5,871.1 759.5,868.8 760.5,870.0 761.5,873.7 762.5,877.3 763.5,867.8 764.5,869.5 765.5,871.9 766.5,870.6 767.5,867.5 768.5,872.8 769.5,875.1 770.5,868.0 771.5,873.6 772.5,876.0 773.5,876.2 774.5,871.9 775.5,880.4 776.5,875.1 777.5,871.0 778.5,876.6 779.5,870.1 780.5,876.4 781.5,869.9 782.5,876.3 783.5,872.1 784.5,877.5 785.5,876.3 786.5,875.5 787.5,874.4 788.5,877.7 789.5,868.9 790.5,875.8 791.5,875.9 792.5,876.4 793.5,877.3 794.5,886.3 795.5,875.4 796.5,877.6 797.5,875.7 798.5,880.1 799.5,869.2 800.5,880.7 801.5,873.5 802.5,868.7 803.5,872.4 804.5,875.3 805.5,876.5 806.5,875.9 807.5,878.6 808.5,876.1 809.5,876.1 810.5,869.8 811.5,878.0 812.5,879.7 813.5,875.4 814.5,871.0 815.5,872.8 816.5,882.1 817.5,875.2 818.5,875.1 819.5,874.7 820.5,879.4 821.5,875.6 822.5,874.9 823.5,873.0 824.5,877.4 825.5,880.9 826.5,877.4 827.5,880.7 828.5,878.6 829.5,878.6 830.5,878.8 831.5,878.5 832.5,881.6 833.5,880.1 834.5,877.0 835.5,879.2 836.5,878.7 837.5,880.5 838.5,879.7 839.5,880.6 840.5,874.9 841.5,880.7 842.5,883.7 843.5,875.8 844.5,884.9 845.5,881.1 846.5,879.8 847.5,875.1 848.5,884.0 849.5,878.0 850.5,879.5 851.5,882.9 852.5,878.3 853.5,878.6 854.5,878.2 855.5,881.5 856.5,883.7 857.5,883.3 858.5,883.4 859.5,881.2 860.5,882.8 861.5,880.3 862.5,888.5 863.5,883.1 864.5,876.6 865.5,879.2 866.5,887.2 867.5,878.1 868.5,880.7 869.5,883.0 870.5,878.1 871.5,884.3 872.5,885.8 873.5,877.9 874.5,883.3 875.5,876.8 876.5,876.1 877.5,879.4 878.5,878.9 879.5,876.0 880.5,880.0 881.5,872.6 882.5,874.1 883.5,873.1 884.5,878.4 885.5,878.3 886.5,877.7 887.5,871.7 888.5,875.9 889.5,876.9 890.5,870.7 891.5,873.1 892.5,877.6 893.5,877.8 894.5,876.6 895.5,877.6 896.5,877.0 897.5,876.6 898.5,876.0 899.5,873.9 900.5,875.9 901.5,875.6 902.5,883.9 903.5,877.9 904.5,877.3 905.5,876.8 906.5,877.3 907.5,877.0 908.5,879.6 909.5,878.0 910.5,880.7 911.5,876.3 912.5,879.6 913.5,881.3 914.5,875.3 915.5,879.3 916.5,879.7 917.5,878.0 918.5,877.5 919.5,873.4 920.5,882.4 921.5,876.2 922.5,875.2 923.5,880.8 924.5,873.2 925.5,881.4 926.5,879.7 927.5,880.1 928.5,877.6 929.5,874.3 930.5,872.1 931.5,881.9 932.5,875.9 933.5,875.6 934.5,881.6 935.5,874.8 936.5,875.8 937.5,875.5 938.5,875.6 939.5,872.7 940.5,874.0 941.5,879.3 942.5,877.5 943.5,866.2 944.5,869.0 945.5,875.7 946.5,874.2 947.5,873.2 948.5,877.2 949.5,868.6 950.5,877.2 951.5,873.8 952.5,874.8 953.5,873.7 954.5,875.2 955.5,871.7 956.5,870.6 957.5,874.3 958.5,872.3 959.5,867.8 960.5,875.3 961.5,874.7 962.5,875.1 963.5,870.9 964.5,871.5 965.5,869.1 966.5,867.2 967.5,870.1 968.5,870.3 969.5,867.6 970.5,874.9 971.5,864.6 972.5,866.8 973.5,867.2 974.5,872.9 975.5,868.3 976.5,868.0 977.5,866.4 978.5,866.8 979.5,865.2 980.5,872.1 981.5,871.0 982.5,872.3 983.5,867.6 984.5,877.1 985.5,867.0 986.5,864.0 987.5,869.4 988.5,870.9 989.5,873.0 990.5,868.0 991.5,873.0 992.5,876.6 993.5,869.3 994.5,869.9 995.5,867.4 996.5,873.4 997.5,875.5 998.5,875.5 999.5,876.0 1000.5,878.0 1001.5,874.5 1002.5,877.2 1003.5,871.9 1004.5,872.6 1005.5,875.9 1006.5,873.1 1007.5,877.5 1008.5,880.2 1009.5,877.7 1010.5,874.7 1011.5,875.0 1012.5,881.6 1013.5,875.6 1014.5,878.6 1015.5,878.0 1016.5,879.3 1017.5,882.7 1018.5,878.3 1019.5,876.1 1020.5,884.9 1021.5,881.6 1022.5,883.4 1023.5,881.5 1024.5,884.2 1025.5,885.8 1026.5,886.4 1027.5,881.8 1028.5,881.7 1029.5,884.0 1030.5,883.5 1031.5,884.6 1032.5,880.9 1033.5,876.2 1034.5,884.3 1035.5,885.2 1036.5,884.8 1037.5,887.7 1038.5,885.4 1039.5,881.7 1040.5,885.7 1041.5,882.5 1042.5,886.3 1043.5,883.3 1044.5,883.9 1045.5,883.1 1046.5,882.6 1047.5,878.0 1048.5,882.4 1049.5,875.6 1050.5,883.5 1051.5,884.9 1052.5,887.9 1053.5,882.9 1054.5,879.7 1055.5,877.0 1056.5,887.2 1057.5,877.3 1058.5,884.0 1059.5,874.6 1060.5,881.0 1061.5,883.1 1062.5,881.9 1063.5,880.8 1064.5,878.4 1065.5,878.1 1066.5,883.5 1067.5,881.8 1068.5,879.9 1069.5,880.9 1070.5,877.4 1071.5,882.9 1072.5,883.5 1073.5,877.4 1074.5,879.8 1075.5,882.4 1076.5,877.3 1077.5,884.9 1078.5,883.2 1079.5,877.8 1080.5,881.2 1081.5,883.0 1082.5,874.4 1083.5,879.6 1084.5,877.2 1085.5,876.8 1086.5,879.3 1087.5,875.6 1088.5,872.8 1089.5,872.5 1090.5,876.4 1091.5,878.1 1092.5,876.0 1093.5,875.4 1094.5,875.6 1095.5,879.2 1096.5,876.9 1097.5,873.0 1098.5,874.2 1099.5,878.4 1100.5,873.1 1101.5,873.5 1102.5,874.5 1103.5,871.4 1104.5,876.9 1105.5,867.9 1106.5,878.3 1107.5,872.9 1108.5,870.4 1109.5,874.8 1110.5,869.1 1111.5,875.5 1112.5,876.2 1113.5,872.4 1114.5,873.0 1115.5,876.9 1116.5,872.4 1117.5,874.5 1118.5,875.5 1119.5,879.1 1120.5,873.4 1121.5,875.1 1122.5,878.4 1123.5,868.1 1124.5,874.8 1125.5,870.3 1126.5,870.8 1127.5,881.9 1128.5,877.1 1129.5,881.0 1130.5,876.3 1131.5,878.8 1132.5,876.3 1133.5,876.2 1134.5,877.8 1135.5,878.6 1136.5,882.9 1137.5,878.2 1138.5,880.1 1139.5,878.5 1140.5,879.9 1141.5,876.0 1142.5,883.1 1143.5,878.7 1144.5,880.5 1145.5,880.0 1146.5,883.6 1147.5,882.4 1148.5,881.1 1149.5,881.8 1150.5,882.5 1151.5,883.8 1152.5,883.3 1153.5,885.6 1154.5,886.6 1155.5,883.7 1156.5,878.2 1157.5,887.0 1158.5,888.1 1159.5,880.9 1160.5,880.8 1161.5,876.1 1162.5,884.2 1163.5,879.1 1164.5,887.1 1165.5,874.9 1166.5,882.1 1167.5,883.8 1168.5,880.7 1169.5,879.5 1170.5,882.5 1171.5,880.2 1172.5,880.7 1173.5,881.6 1174.5,880.1 1175.5,881.0 1176.5,883.8 1177.5,880.4 1178.5,882.0 1179.5,879.3 1180.5,884.0 1181.5,877.8 1182.5,884.1 1183.5,872.8 1184.5,878.7 1185.5,876.7 1186.5,884.0 1187.5,881.9 1188.5,877.4 1189.5,879.4 1190.5,884.8 1191.5,880.8 1192.5,882.5 1193.5,876.6 1194.5,876.6 1195.5,882.4 1196.5,887.2 1197.5,879.1 1198.5,882.3 1199.5,877.9 1200.5,884.0 1201.5,879.2 1202.5,879.2 1203.5,875.0 1204.5,879.2 1205.5,880.8 1206.5,884.1 1207.5,876.9 1208.5,882.9 1209.5,879.1 1210.5,879.3 1211.5,877.4 1212.5,875.2 1213.5,876.5 1214.5,884.5 1215.5,876.5 1216.5,878.6 1217.5,882.9 1218.5,873.8 1219.5,881.0 1220.5,878.2 1221.5,880.2 1222.5,882.0 1223.5,879.1 1224.5,879.0 1225.5,881.5 1226.5,881.3 1227.5,877.4 1228.5,878.9 1229.5,875.6 1230.5,883.0 1231.5,875.9 1232.5,879.8 1233.5,884.1 1234.5,881.5 1235.5,878.4 1236.5,877.1 1237.5,877.4 1238.5,881.7 1239.5,880.0 1240.5,879.0 1241.5,886.3 1242.5,876.7 1243.5,877.6 1244.5,877.9 1245.5,879.5 1246.5,879.7 1247.5,878.1 1248.5,880.9 1249.5,880.3 1250.5,877.9 1251.5,871.9 1252.5,880.9 1253.5,876.0 1254.5,876.8 1255.5,878.1 1256.5,875.1 1257.5,876.2 1258.5,878.6 1259.5,877.4 1260.5,879.2 1261.5,875.9 1262.5,877.6 1263.5,875.3 1264.5,877.4 1265.5,878.9 1266.5,877.4 1267.5,874.1 1268.5,877.5 1269.5,878.4 1270.5,881.1 1271.5,877.8 1272.5,876.8 1273.5,874.7 1274.5,883.4 1275.5,875.2 1276.5,874.7 1277.5,877.4 1278.5,872.7 1279.5,880.7 1280.5,878.2 1281.5,879.1 1282.5,875.0 1283.5,876.3 1284.5,880.0 1285.5,880.1 1286.5,885.4 1287.5,880.6 1288.5,872.3 1289.5,877.8 1290.5,876.5 1291.5,880.5 1292.5,877.3 1293.5,878.8 1294.5,876.6 1295.5,879.1 1296.5,881.5 1297.5,875.7 1298.5,871.8 1299.5,874.5 1300.5,881.7 1301.5,878.0 1302.5,876.5 1303.5,874.7 1304.5,880.2 1305.5,878.1 1306.5,877.0 1307.5,875.8 1308.5,876.8 1309.5,876.4 1310.5,878.8 1311.5,880.7 1312.5,871.8 1313.5,873.2 1314.5,876.9 1315.5,877.4 1316.5,872.9 1317.5,875.4 1318.5,876.0 1319.5,875.9 1320.5,875.8 1321.5,876.8 1322.5,879.5 1323.5,879.1 1324.5,878.7 1325.5,877.8 1326.5,875.1 1327.5,875.7 1328.5,878.9 1329.5,877.3 1330.5,879.1 1331.5,877.7 1332.5,877.1 1333.5,878.1 1334.5,872.7 1335.5,876.5 1336.5,875.3 1337.5,879.2 1338.5,875.1 1339.5,877.5 1340.5,875.7 1341.5,878.1 1342.5,878.8 1343.5,876.2 1344.5,877.1 1345.5,877.3 1346.5,878.9 1347.5,875.9 1348.5,876.9 1349.5,875.6 1350.5,874.1 1351.5,877.2 1352.5,877.9 1353.5,874.5 1354.5,881.0 1355.5,874.6 1356.5,878.7 1357.5,877.7 1358.5,872.0 1359.5,876.5 1360.5,872.3 1361.5,876.3 1362.5,878.4 1363.5,881.6 1364.5,878.7 1365.5,872.4 1366.5,875.6 1367.5,880.6 1368.5,877.0 1369.5,881.3 1370.5,874.5 1371.5,875.0 1372.5,872.8 1373.5,875.4 1374.5,879.8 1375.5,873.9 1376.5,878.7 1377.5,877.6 1378.5,878.5 1379.5,875.7 1380.5,876.4 1381.5,882.1 1382.5,873.0 1383.5,878.4 1384.5,880.4 1385.5,877.5 1386.5,880.7 1387.5,868.3 1388.5,875.4 1389.5,873.1 1390.5,875.1 1391.5,875.9 1392.5,877.5 1393.5,873.8 1394.5,878.5 1395.5,871.9 1396.5,878.7 1397.5,875.4 1398.5,871.3 1399.5,871.2 1400.5,871.2 1401.5,873.3 1402.5,876.3 1403.5,879.5 1404.5,878.0 1405.5,872.3 1406.5,869.7 1407.5,875.0 1408.5,872.0 1409.5,875.3 1410.5,873.9 1411.5,882.6 1412.5,871.1 1413.5,876.6 1414.5,880.7 1415.5,874.6 1416.5,873.5 1417.5,880.1 1418.5,869.9 1419.5,871.0 1420.5,872.3 1421.5,876.6 1422.5,877.6 1423.5,875.2 1424.5,881.3 1425.5,874.9 1426.5,875.4 1427.5,874.6 1428.5,878.7 1429.5,875.4 1430.5,874.4 1431.5,879.9 1432.5,878.8 1433.5,878.1 1434.5,872.0 1435.5,872.5 1436.5,874.7 1437.5,874.6 1438.5,874.2 1439.5,874.7 1440.5,877.0 1441.5,872.6 1442.5,875.9" stroke="#0000ff"/>
<path d="M121.5,714.4 122.5,715.1 123.5,711.1 124.5,718.3 125.5,711.8 126.5,713.6 127.5,716.2 128.5,712.9 129.5,713.2 130.5,713.5 131.5,716.3 132.5,719.7 133.5,715.4 134.5,713.2 135.5,716.4 136.5,714.3 137.5,715.4 138.5,717.7 139.5,714.1 140.5,715.5 141.5,714.0 142.5,715.8 143.5,717.0 144.5,715.3 145.5,717.1 146.5,718.0 147.5,717.9 148.5,717.4 149.5,717.4 150.5,720.1 151.5,720.0 152.5,723.2 153.5,711.4 154.5,714.7 155.5,715.2 156.5,717.2 157.5,715.8 158.5,713.5 159.5,715.4 160.5,716.8 161.5,715.5 162.5,717.9 163.5,713.3 164.5,720.5 165.5,720.3 166.5,717.2 167.5,719.2 168.5,718.4 169.5,716.9 170.5,718.7 171.5,720.4 172.5,717.6 173.5,717.4 174.5,717.6 175.5,718.2 176.5,719.3 177.5,715.2 178.5,716.9 179.5,715.9 180.5,711.5 181.5,713.9 182.5,714.1 183.5,714.1 184.5,714.6 185.5,710.3 186.5,715.1 187.5,715.2 188.5,715.3 189.5,720.5 190.5,721.8 191.5,719.2 192.5,722.0 193.5,719.5 194.5,720.1 195.5,717.6 196.5,722.3 197.5,713.9 198.5,718.3 199.5,719.4 200.5,713.8 201.5,716.8 202.5,716.6 203.5,717.9 204.5,718.3 205.5,714.9 206.5,712.7 207.5,717.8 208.5,717.4 209.5,714.1 210.5,716.1 211.5,717.0 212.5,718.4 213.5,718.8 214.5,721.8 215.5,716.2 216.5,720.5 217.5,717.2 218.5,714.0 219.5,715.7 220.5,709.9 221.5,718.6 222.5,719.2 223.5,717.3 224.5,720.3 225.5,718.8 226.5,724.1 227.5,722.4 228.5,719.5 229.5,717.0 230.5,716.9 231.5,717.0 232.5,716.0 233.5,714.4 234.5,713.9 235.5,713.3 236.5,711.7 237.5,710.4 238.5,709.2 239.5,715.1 240.5,706.7 241.5,706.8 242.5,708.9 243.5,706.9 244.5,707.7 245.5,708.0 246.5,708.6 247.5,707.5 248.5,704.4 249.5,710.3 250.5,707.4 251.5,712.5 252.5,711.9 253.5,710.1 254.5,711.9 255.5,709.0 256.5,709.8 257.5,704.0 258.5,708.0 259.5,707.1 260.5,706.2 261.5,703.2 262.5,705.3 263.5,702.7 264.5,701.5 265.5,711.5 266.5,706.7 267.5,706.8 268.5,700.1 269.5,700.0 270.5,698.7 271.5,697.8 272.5,696.2 273.5,695.3 274.5,691.5 275.5,696.3 276.5,695.7 277.5,696.7 278.5,693.6 279.5,697.0 280.5,692.1 281.5,689.4 282.5,691.6 283.5,686.9 284.5,683.8 285.5,685.7 286.5,687.3 287.5,687.3 288.5,689.2 289.5,697.6 290.5,693.0 291.5,695.8 292.5,690.2 293.5,695.2 294.5,693.9 295.5,686.0 296.5,681.0 297.5,683.9 298.5,684.8 299.5,686.7 300.5,691.6 301.5,691.0 302.5,685.3 303.5,680.2 304.5,680.6 305.5,680.2 306.5,679.1 307.5,674.5 308.5,676.0 309.5,676.6 310.5,676.2 311.5,675.3 312.5,672.3 313.5,665.4 314.5,662.6 315.5,658.2 316.5,661.2 317.5,656.6 318.5,657.1 319.5,658.6 320.5,657.1 321.5,656.7 322.5,659.4 323.5,661.2 324.5,665.8 325.5,666.3 326.5,664.3 327.5,669.3 328.5,671.0 329.5,668.8 330.5,671.6 331.5,669.1 332.5,674.2 333.5,674.2 334.5,674.5 335.5,678.5 336.5,683.0 337.5,683.2 338.5,685.8 339.5,687.0 340.5,685.6 341.5,689.5 342.5,698.8 343.5,699.8 344.5,701.8 345.5,705.1 346.5,701.5 347.5,703.8 348.5,699.1 349.5,697.3 350.5,694.4 351.5,692.3 352.5,694.0 353.5,694.6 354.5,696.0 355.5,698.8 356.5,703.4 357.5,702.7 358.5,713.3 359.5,707.7 360.5,709.9 361.5,704.6 362.5,699.9 363.5,701.5 364.5,701.0 365.5,701.6 366.5,703.4 367.5,701.8 368.5,704.5 369.5,705.7 370.5,705.1 371.5,706.2 372.5,708.7 373.5,708.7 374.5,709.9 375.5,706.4 376.5,712.4 377.5,714.4 378.5,714.5 379.5,716.0 380.5,718.9 381.5,714.1 382.5,713.3 383.5,709.1 384.5,708.9 385.5,709.9 386.5,709.3 387.5,711.9 388.5,710.9 389.5,713.1 390.5,711.6 391.5,712.0 392.5,714.6 393.5,714.5 394.5,715.9 395.5,716.3 396.5,716.8 397.5,718.5 398.5,717.5 399.5,714.8 400.5,712.3 401.5,715.9 402.5,710.4 403.5,709.7 404.5,714.4 405.5,714.3 406.5,714.5 407.5,715.3 408.5,712.6 409.5,714.1 410.5,719.2 411.5,719.3 412.5,716.4 413.5,721.9 414.5,716.6 415.5,717.9 416.5,719.8 417.5,717.2 418.5,718.6 419.5,718.6 420.5,716.5 421.5,716.7 422.5,714.1 423.5,709.6 424.5,710.3 425.5,712.6 426.5,713.2 427.5,713.0 428.5,716.4 429.5,717.9 430.5,715.3 431.5,717.8 432.5,712.8 433.5,712.3 434.5,715.8 435.5,712.8 436.5,712.2 437.5,713.5 438.5,713.1 439.5,715.8 440.5,713.5 441.5,716.8 442.5,724.7 443.5,720.0 444.5,716.9 445.5,722.4 446.5,723.0 447.5,725.2 448.5,723.6 449.5,722.7 450.5,727.3 451.5,726.5 452.5,722.3 453.5,727.6 454.5,726.2 455.5,729.1 456.5,726.6 457.5,728.9 458.5,727.9 459.5,728.4 460.5,726.8 461.5,725.2 462.5,725.3 463.5,725.4 464.5,724.2 465.5,725.9 466.5,723.3 467.5,723.9 468.5,727.2 469.5,724.1 470.5,725.9 471.5,724.4 472.5,726.0 473.5,729.2 474.5,726.7 475.5,728.9 476.5,724.1 477.5,723.5 478.5,726.8 479.5,723.6 480.5,731.3 481.5,728.6 482.5,723.9 483.5,725.9 484.5,725.2 485.5,727.1 486.5,726.2 487.5,728.1 488.5,729.1 489.5,725.9 490.5,724.1 491.5,727.4 492.5,726.1 493.5,728.6 494.5,726.1 495.5,728.0 496.5,727.1 497.5,726.2 498.5,725.7 499.5,728.1 500.5,731.7 501.5,728.6 502.5,727.0 503.5,728.8 504.5,727.9 505.5,725.5 506.5,728.8 507.5,731.4 508.5,728.2 509.5,726.9 510.5,730.2 511.5,733.0 512.5,731.6 513.5,732.0 514.5,734.8 515.5,733.9 516.5,732.5 517.5,731.2 518.5,732.2 519.5,732.1 520.5,734.2 521.5,731.2 522.5,736.1 523.5,733.6 524.5,732.7 525.5,735.0 526.5,729.1 527.5,730.3 528.5,729.2 529.5,730.8 530.5,727.6 531.5,731.3 532.5,727.9 533.5,730.1 534.5,728.2 535.5,732.3 536.5,730.1 537.5,732.1 538.5,730.7 539.5,730.0 540.5,731.9 541.5,734.6 542.5,730.5 543.5,729.2 544.5,730.9 545.5,732.3 546.5,728.1 547.5,728.4 548.5,729.2 549.5,727.9 550.5,729.1 551.5,731.4 552.5,730.0 553.5,730.8 554.5,733.3 555.5,732.3 556.5,730.7 557.5,730.4 558.5,729.8 559.5,735.1 560.5,730.8 561.5,731.4 562.5,731.1 563.5,727.4 564.5,730.0 565.5,727.5 566.5,724.5 567.5,728.4 568.5,727.2 569.5,729.3 570.5,731.3 571.5,735.7 572.5,731.0 573.5,732.1 574.5,733.2 575.5,732.4 576.5,730.7 577.5,727.6 578.5,726.6 579.5,727.0 580.5,724.8 581.5,726.4 582.5,726.9 583.5,733.5 584.5,730.7 585.5,738.8 586.5,734.9 587.5,733.9 588.5,733.4 589.5,736.7 590.5,736.6 591.5,732.3 592.5,733.7 593.5,731.9 594.5,730.7 595.5,729.9 596.5,728.1 597.5,719.3 598.5,715.0 599.5,716.6 600.5,714.5 601.5,715.9 602.5,712.0 603.5,714.3 604.5,720.3 605.5,716.0 606.5,720.3 607.5,719.0 608.5,720.2 609.5,718.2 610.5,722.1 611.5,714.8 612.5,714.6 613.5,713.8 614.5,716.9 615.5,715.4 616.5,718.6 617.5,720.6 618.5,723.8 619.5,725.1 620.5,727.3 621.5,725.0 622.5,721.9 623.5,727.0 624.5,725.1 625.5,722.9 626.5,724.7 627.5,723.3 628.5,729.3 629.5,724.9 630.5,722.1 631.5,727.0 632.5,725.5 633.5,730.2 634.5,728.7 635.5,725.9 636.5,729.1 637.5,728.8 638.5,730.1 639.5,731.0 640.5,728.9 641.5,733.5 642.5,731.8 643.5,731.8 644.5,734.7 645.5,736.3 646.5,730.7 647.5,734.3 648.5,725.8 649.5,729.6 650.5,726.2 651.5,726.1 652.5,723.4 653.5,723.4 654.5,723.4 655.5,722.8 656.5,723.7 657.5,726.8 658.5,720.6 659.5,721.0 660.5,717.5 661.5,715.6 662.5,722.7 663.5,717.2 664.5,718.0 665.5,719.3 666.5,720.8 667.5,719.6 668.5,722.7 669.5,719.2 670.5,716.8 671.5,721.2 672.5,721.8 673.5,720.4 674.5,721.3 675.5,720.5 676.5,724.4 677.5,719.2 678.5,716.8 679.5,718.9 680.5,713.8 681.5,717.0 682.5,715.9 683.5,712.5 684.5,712.1 685.5,711.3 686.5,714.9 687.5,712.3 688.5,709.3 689.5,709.7 690.5,712.9 691.5,714.1 692.5,713.7 693.5,716.4 694.5,715.6 695.5,717.8 696.5,716.2 697.5,714.7 698.5,714.5 699.5,711.9 700.5,714.7 701.5,713.1 702.5,711.1 703.5,711.8 704.5,710.5 705.5,716.3 706.5,710.9 707.5,713.0 708.5,713.1 709.5,711.3 710.5,713.3 711.5,713.2 712.5,714.7 713.5,715.2 714.5,716.7 715.5,717.1 716.5,715.2 717.5,715.3 718.5,715.4 719.5,715.0 720.5,713.4 721.5,717.9 722.5,716.7 723.5,716.5 724.5,713.9 725.5,714.3 726.5,712.6 727.5,717.5 728.5,719.3 729.5,719.5 730.5,718.7 731.5,717.2 732.5,719.8 733.5,720.3 734.5,722.1 735.5,722.8 736.5,721.4 737.5,722.3 738.5,724.2 739.5,724.3 740.5,723.6 741.5,720.2 742.5,723.5 743.5,726.8 744.5,725.8 745.5,727.7 746.5,725.5 747.5,726.7 748.5,728.3 749.5,728.5 750.5,728.2 751.5,729.8 752.5,730.6 753.5,731.0 754.5,725.5 755.5,727.9 756.5,728.5 757.5,728.6 758.5,726.4 759.5,732.2 760.5,728.0 761.5,730.3 762.5,725.7 763.5,729.5 764.5,730.1 765.5,728.9 766.5,732.2 767.5,735.5 768.5,729.5 769.5,729.6 770.5,734.7 771.5,732.5 772.5,731.0 773.5,729.3 774.5,733.2 775.5,732.3 776.5,735.0 777.5,730.5 778.5,731.9 779.5,731.7 780.5,732.0 781.5,734.5 782.5,734.2 783.5,731.5 784.5,732.6 785.5,732.5 786.5,734.7 787.5,732.8 788.5,731.1 789.5,732.6 790.5,733.3 791.5,735.3 792.5,736.0 793.5,736.2 794.5,734.5 795.5,733.0 796.5,735.2 797.5,733.9 798.5,733.2 799.5,735.0 800.5,735.4 801.5,736.4 802.5,733.2 803.5,731.8 804.5,736.1 805.5,733.4 806.5,737.3 807.5,733.4 808.5,734.5 809.5,732.3 810.5,739.7 811.5,735.0 812.5,735.9 813.5,735.1 814.5,735.7 815.5,737.8 816.5,736.5 817.5,736.3 818.5,738.7 819.5,733.9 820.5,738.6 821.5,739.5 822.5,733.8 823.5,737.0 824.5,734.0 825.5,732.4 826.5,734.8 827.5,737.4 828.5,737.8 829.5,735.6 830.5,734.6 831.5,735.4 832.5,734.8 833.5,735.0 834.5,731.5 835.5,735.6 836.5,735.8 837.5,740.1 838.5,737.2 839.5,735.6 840.5,735.9 841.5,736.3 842.5,734.3 843.5,731.6 844.5,734.1 845.5,735.0 846.5,735.6 847.5,733.9 848.5,733.5 849.5,734.6 850.5,735.2 851.5,736.1 852.5,734.5 853.5,735.7 854.5,732.9 855.5,736.3 856.5,734.5 857.5,731.9 858.5,734.0 859.5,734.5 860.5,732.2 861.5,735.5 862.5,733.4 863.5,734.8 864.5,731.9 865.5,734.3 866.5,735.0 867.5,732.6 868.5,733.0 869.5,732.1 870.5,733.8 871.5,733.1 872.5,733.8 873.5,732.7 874.5,730.3 875.5,730.1 876.5,731.6 877.5,733.3 878.5,736.6 879.5,733.9 880.5,731.0 881.5,728.2 882.5,733.0 883.5,732.0 884.5,729.6 885.5,733.5 886.5,731.7 887.5,730.9 888.5,727.9 889.5,733.4 890.5,731.6 891.5,731.0 892.5,729.6 893.5,730.6 894.5,733.6 895.5,732.2 896.5,735.0 897.5,733.2 898.5,731.8 899.5,732.8 900.5,731.3 901.5,728.2 902.5,729.8 903.5,731.5 904.5,729.1 905.5,729.8 906.5,728.4 907.5,733.9 908.5,728.2 909.5,728.7 910.5,728.9 911.5,732.4 912.5,732.7 913.5,729.4 914.5,731.5 915.5,728.7 916.5,730.4 917.5,735.3 918.5,732.1 919.5,730.2 920.5,727.7 921.5,729.6 922.5,727.7 923.5,726.0 924.5,731.3 925.5,731.2 926.5,730.5 927.5,732.0 928.5,726.9 929.5,732.7 930.5,727.9 931.5,730.7 932.5,730.8 933.5,732.0 934.5,733.7 935.5,730.5 936.5,729.1 937.5,727.7 938.5,730.3 939.5,728.2 940.5,727.2 941.5,729.4 942.5,731.0 943.5,729.1 944.5,727.6 945.5,729.9 946.5,727.2 947.5,726.7 948.5,732.3 949.5,729.9 950.5,733.2 951.5,726.6 952.5,731.3 953.5,729.0 954.5,734.3 955.5,728.8 956.5,728.3 957.5,729.9 958.5,729.4 959.5,728.1 960.5,730.6 961.5,730.0 962.5,730.2 963.5,729.1 964.5,726.7 965.5,726.5 966.5,728.7 967.5,725.5 968.5,730.2 969.5,726.7 970.5,724.8 971.5,727.9 972.5,725.6 973.5,727.6 974.5,725.4 975.5,728.1 976.5,723.8 977.5,720.1 978.5,721.1 979.5,720.7 980.5,724.8 981.5,727.0 982.5,723.1 983.5,721.0 984.5,724.8 985.5,724.4 986.5,722.8 987.5,724.4 988.5,723.7 989.5,721.5 990.5,725.1 991.5,722.9 992.5,722.1 993.5,723.6 994.5,727.1 995.5,727.9 996.5,727.0 997.5,723.5 998.5,722.6 999.5,725.4 1000.5,724.5 1001.5,725.2 1002.5,723.0 1003.5,723.8 1004.5,723.9 1005.5,727.9 1006.5,729.0 1007.5,726.3 1008.5,729.2 1009.5,729.9 1010.5,727.7 1011.5,729.6 1012.5,731.4 1013.5,728.1 1014.5,732.4 1015.5,729.6 1016.5,730.2 1017.5,729.6 1018.5,727.3 1019.5,730.8 1020.5,730.1 1021.5,729.4 1022.5,729.8 1023.5,731.0 1024.5,729.9 1025.5,729.2 1026.5,730.4 1027.5,731.7 1028.5,730.3 1029.5,728.8 1030.5,731.9 1031.5,729.8 1032.5,731.4 1033.5,730.1 1034.5,728.6 1035.5,727.9 1036.5,728.7 1037.5,729.9 1038.5,726.1 1039.5,731.1 1040.5,732.5 1041.5,730.0 1042.5,728.3 1043.5,727.3 1044.5,730.9 1045.5,731.2 1046.5,730.6 1047.5,731.8 1048.5,729.2 1049.5,730.0 1050.5,731.0 1051.5,730.0 1052.5,731.4 1053.5,731.4 1054.5,730.0 1055.5,728.7 1056.5,729.1 1057.5,732.6 1058.5,728.2 1059.5,730.6 1060.5,728.6 1061.5,734.9 1062.5,729.3 1063.5,731.7 1064.5,728.7 1065.5,736.6 1066.5,728.0 1067.5,731.2 1068.5,728.1 1069.5,732.0 1070.5,728.1 1071.5,729.6 1072.5,727.4 1073.5,729.7 1074.5,730.4 1075.5,733.7 1076.5,726.0 1077.5,731.4 1078.5,730.4 1079.5,729.1 1080.5,729.9 1081.5,731.0 1082.5,730.1 1083.5,730.1 1084.5,728.7 1085.5,729.4 1086.5,731.0 1087.5,728.3 1088.5,729.0 1089.5,730.1 1090.5,730.6 1091.5,730.7 1092.5,729.5 1093.5,726.0 1094.5,731.3 1095.5,731.7 1096.5,732.0 1097.5,730.3 1098.5,731.3 1099.5,729.1 1100.5,727.5 1101.5,729.2 1102.5,729.0 1103.5,731.4 1104.5,731.0 1105.5,728.4 1106.5,728.6 1107.5,729.2 1108.5,729.4 1109.5,732.0 1110.5,728.3 1111.5,731.6 1112.5,726.5 1113.5,727.9 1114.5,732.3 1115.5,729.8 1116.5,729.3 1117.5,730.2 1118.5,728.6 1119.5,729.1 1120.5,729.4 1121.5,729.4 1122.5,729.7 1123.5,727.9 1124.5,729.6 1125.5,727.6 1126.5,730.1 1127.5,728.6 1128.5,729.4 1129.5,729.5 1130.5,727.6 1131.5,728.0 1132.5,728.7 1133.5,729.9 1134.5,730.8 1135.5,728.9 1136.5,727.8 1137.5,729.5 1138.5,729.1 1139.5,730.5 1140.5,731.4 1141.5,732.8 1142.5,726.1 1143.5,728.3 1144.5,729.1 1145.5,730.7 1146.5,730.6 1147.5,729.4 1148.5,730.8 1149.5,728.3 1150.5,728.7 1151.5,730.0 1152.5,727.4 1153.5,732.4 1154.5,728.0 1155.5,727.4 1156.5,730.2 1157.5,726.0 1158.5,728.8 1159.5,729.3 1160.5,732.1 1161.5,735.4 1162.5,730.0 1163.5,727.3 1164.5,730.2 1165.5,731.0 1166.5,728.0 1167.5,730.5 1168.5,732.8 1169.5,730.8 1170.5,728.4 1171.5,728.8 1172.5,726.8 1173.5,729.0 1174.5,728.8 1175.5,732.5 1176.5,726.9 1177.5,726.9 1178.5,730.2 1179.5,731.0 1180.5,728.8 1181.5,730.2 1182.5,731.1 1183.5,731.2 1184.5,730.5 1185.5,730.8 1186.5,726.9 1187.5,731.3 1188.5,730.0 1189.5,728.2 1190.5,729.0 1191.5,729.2 1192.5,728.7 1193.5,729.4 1194.5,728.9 1195.5,726.9 1196.5,733.7 1197.5,730.3 1198.5,733.8 1199.5,729.0 1200.5,732.6 1201.5,729.3 1202.5,732.4 1203.5,731.2 1204.5,730.9 1205.5,729.1 1206.5,729.8 1207.5,731.9 1208.5,725.5 1209.5,728.0 1210.5,726.9 1211.5,727.5 1212.5,730.4 1213.5,730.7 1214.5,728.8 1215.5,731.2 1216.5,727.7 1217.5,727.9 1218.5,729.2 1219.5,729.7 1220.5,728.7 1221.5,726.9 1222.5,730.0 1223.5,732.1 1224.5,728.1 1225.5,728.8 1226.5,726.7 1227.5,728.7 1228.5,727.0 1229.5,729.0 1230.5,731.6 1231.5,729.6 1232.5,727.2 1233.5,730.0 1234.5,725.2 1235.5,730.7 1236.5,729.0 1237.5,726.4 1238.5,727.7 1239.5,726.6 1240.5,732.1 1241.5,729.3 1242.5,726.3 1243.5,726.9 1244.5,728.5 1245.5,727.1 1246.5,728.5 1247.5,728.8 1248.5,725.3 1249.5,729.2 1250.5,731.2 1251.5,728.6 1252.5,729.1 1253.5,726.9 1254.5,726.9 1255.5,728.4 1256.5,726.2 1257.5,724.8 1258.5,729.4 1259.5,726.6 1260.5,728.2 1261.5,728.0 1262.5,728.5 1263.5,728.8 1264.5,728.7 1265.5,727.1 1266.5,729.2 1267.5,727.0 1268.5,728.3 1269.5,726.4 1270.5,727.7 1271.5,726.0 1272.5,730.2 1273.5,728.2 1274.5,726.1 1275.5,724.1 1276.5,726.1 1277.5,729.9 1278.5,726.2 1279.5,729.3 1280.5,727.0 1281.5,726.8 1282.5,725.4 1283.5,727.9 1284.5,729.3 1285.5,728.8 1286.5,728.3 1287.5,725.4 1288.5,727.5 1289.5,725.1 1290.5,725.7 1291.5,727.9 1292.5,725.2 1293.5,728.1 1294.5,726.6 1295.5,729.9 1296.5,726.9 1297.5,728.1 1298.5,729.0 1299.5,728.2 1300.5,728.3 1301.5,723.8 1302.5,728.7 1303.5,724.0 1304.5,725.7 1305.5,722.4 1306.5,726.3 1307.5,725.7 1308.5,726.5 1309.5,725.1 1310.5,726.6 1311.5,725.5 1312.5,726.5 1313.5,728.4 1314.5,722.7 1315.5,726.7 1316.5,726.5 1317.5,723.9 1318.5,726.0 1319.5,729.4 1320.5,727.4 1321.5,725.7 1322.5,728.1 1323.5,727.4 1324.5,724.3 1325.5,726.0 1326.5,726.6 1327.5,726.7 1328.5,727.3 1329.5,726.6 1330.5,726.7 1331.5,725.6 1332.5,725.9 1333.5,725.6 1334.5,727.5 1335.5,726.3 1336.5,725.4 1337.5,727.9 1338.5,731.0 1339.5,726.2 1340.5,728.8 1341.5,725.4 1342.5,726.8 1343.5,728.1 1344.5,728.5 1345.5,730.4 1346.5,725.5 1347.5,726.5 1348.5,728.9 1349.5,728.8 1350.5,724.7 1351.5,726.3 1352.5,728.2 1353.5,728.6 1354.5,724.4 1355.5,726.9 1356.5,722.0 1357.5,728.1 1358.5,729.5 1359.5,724.0 1360.5,725.7 1361.5,723.3 1362.5,725.1 1363.5,727.0 1364.5,727.1 1365.5,726.7 1366.5,723.2 1367.5,724.3 1368.5,729.4 1369.5,726.2 1370.5,724.9 1371.5,726.2 1372.5,724.6 1373.5,726.0 1374.5,724.2 1375.5,724.3 1376.5,722.6 1377.5,728.8 1378.5,726.8 1379.5,726.6 1380.5,727.0 1381.5,725.1 1382.5,723.3 1383.5,726.3 1384.5,726.6 1385.5,726.2 1386.5,724.4 1387.5,722.3 1388.5,726.6 1389.5,725.8 1390.5,724.9 1391.5,724.5 1392.5,724.7 1393.5,723.8 1394.5,722.0 1395.5,724.6 1396.5,723.9 1397.5,725.3 1398.5,724.1 1399.5,725.2 1400.5,722.3 1401.5,725.4 1402.5,728.4 1403.5,724.3 1404.5,725.6 1405.5,726.0 1406.5,725.0 1407.5,724.7 1408.5,721.3 1409.5,722.6 1410.5,727.1 1411.5,724.5 1412.5,724.4 1413.5,727.7 1414.5,720.7 1415.5,725.9 1416.5,725.1 1417.5,720.1 1418.5,722.5 1419.5,724.5 1420.5,722.3 1421.5,722.1 1422.5,724.7 1423.5,723.1 1424.5,723.8 1425.5,723.1 1426.5,723.6 1427.5,723.9 1428.5,727.4 1429.5,724.0 1430.5,721.8 1431.5,723.8 1432.5,723.5 1433.5,729.3 1434.5,720.2 1435.5,724.2 1436.5,723.3 1437.5,725.7 1438.5,720.8 1439.5,720.3 1440.5,723.3 1441.5,724.2 1442.5,723.3" stroke="#ff0000"/>
<path d="M121.5,542.9 122.5,538.9 123.5,539.1 124.5,538.2 125.5,541.7 126.5,536.1 127.5,543.4 128.5,538.9 129.5,540.9 130.5,540.0 131.5,543.1 132.5,536.8 133.5,540.0 134.5,540.0 135.5,542.7 136.5,538.8 137.5,540.5 138.5,539.3 139.5,541.0 140.5,542.1 141.5,539.1 142.5,543.3 143.5,542.9 144.5,542.3 145.5,543.1 146.5,540.4 147.5,541.5 148.5,540.2 149.5,541.5 150.5,543.1 151.5,541.0 152.5,541.7 153.5,541.3 154.5,541.2 155.5,541.6 156.5,542.9 157.5,541.1 158.5,543.6 159.5,546.3 160.5,544.8 161.5,543.3 162.5,542.1 163.5,542.5 164.5,547.0 165.5,544.2 166.5,543.0 167.5,544.6 168.5,548.2 169.5,544.7 170.5,545.6 171.5,545.1 172.5,544.0 173.5,542.6 174.5,544.1 175.5,544.3 176.5,545.8 177.5,546.2 178.5,546.3 179.5,545.0 180.5,546.0 181.5,542.8 182.5,546.3 183.5,544.8 184.5,543.1 185.5,544.3 186.5,543.1 187.5,545.0 188.5,545.5 189.5,546.4 190.5,539.8 191.5,539.5 192.5,541.0 193.5,542.0 194.5,543.1 195.5,541.9 196.5,537.6 197.5,540.6 198.5,542.5 199.5,541.4 200.5,542.4 201.5,540.6 202.5,540.7 203.5,541.4 204.5,541.8 205.5,541.4 206.5,541.3 207.5,539.9 208.5,541.9 209.5,541.5 210.5,543.3 211.5,543.5 212.5,541.7 213.5,540.7 214.5,540.3 215.5,542.3 216.5,541.7 217.5,541.0 218.5,541.8 219.5,540.6 220.5,543.0 221.5,541.0 222.5,544.0 223.5,542.6 224.5,543.0 225.5,540.0 226.5,542.3 227.5,543.3 228.5,540.3 229.5,541.5 230.5,542.1 231.5,539.5 232.5,542.5 233.5,543.4 234.5,540.3 235.5,542.4 236.5,539.4 237.5,541.6 238.5,538.6 239.5,543.4 240.5,542.0 241.5,541.1 242.5,539.7 243.5,543.2 244.5,544.3 245.5,537.3 246.5,542.7 247.5,543.2 248.5,540.7 249.5,537.8 250.5,541.3 251.5,539.3 252.5,538.4 253.5,537.0 254.5,540.1 255.5,540.3 256.5,537.6 257.5,539.5 258.5,536.3 259.5,539.6 260.5,538.0 261.5,537.3 262.5,537.1 263.5,538.6 264.5,538.0 265.5,537.2 266.5,535.9 267.5,534.9 268.5,534.5 269.5,532.3 270.5,531.6 271.5,528.4 272.5,523.6 273.5,529.4 274.5,531.7 275.5,529.7 276.5,530.3 277.5,532.0 278.5,533.5 279.5,534.8 280.5,533.1 281.5,534.4 282.5,533.7 283.5,536.1 284.5,535.3 285.5,536.9 286.5,535.8 287.5,538.0 288.5,536.8 289.5,540.4 290.5,533.2 291.5,535.5 292.5,538.4 293.5,541.4 294.5,536.4 295.5,537.0 296.5,536.5 297.5,539.4 298.5,536.5 299.5,538.2 300.5,536.4 301.5,534.7 302.5,537.6 303.5,537.9 304.5,539.3 305.5,536.8 306.5,535.8 307.5,537.9 308.5,537.3 309.5,537.4 310.5,536.7 311.5,538.9 312.5,537.5 313.5,540.2 314.5,538.8 315.5,537.9 316.5,533.8 317.5,537.7 318.5,537.4 319.5,538.1 320.5,538.4 321.5,535.8 322.5,538.0 323.5,535.4 324.5,539.9 325.5,534.0 326.5,533.2 327.5,533.3 328.5,534.6 329.5,534.2 330.5,539.7 331.5,535.5 332.5,533.7 333.5,538.0 334.5,534.9 335.5,533.7 336.5,537.5 337.5,537.0 338.5,535.0 339.5,538.3 340.5,536.0 341.5,538.6 342.5,536.6 343.5,538.4 344.5,535.8 345.5,533.4 346.5,539.9 347.5,534.5 348.5,535.1 349.5,534.2 350.5,535.0 351.5,535.8 352.5,535.7 353.5,536.5 354.5,538.5 355.5,535.1 356.5,533.0 357.5,533.1 358.5,534.0 359.5,532.2 360.5,536.6 361.5,534.2 362.5,534.5 363.5,535.1 364.5,532.5 365.5,533.5 366.5,536.2 367.5,536.1 368.5,534.1 369.5,538.2 370.5,532.5 371.5,534.2 372.5,534.4 373.5,529.8 374.5,538.3 375.5,535.4 376.5,532.8 377.5,538.4 378.5,535.7 379.5,535.4 380.5,533.5 381.5,534.8 382.5,531.8 383.5,536.0 384.5,533.8 385.5,534.7 386.5,536.6 387.5,534.9 388.5,534.9 389.5,534.9 390.5,533.0 391.5,535.8 392.5,537.0 393.5,535.6 394.5,535.8 395.5,532.6 396.5,532.6 397.5,531.5 398.5,536.3 399.5,533.6 400.5,536.5 401.5,532.5 402.5,533.1 403.5,534.0 404.5,535.5 405.5,533.9 406.5,534.1 407.5,533.7 408.5,534.0 409.5,531.6 410.5,533.7 411.5,533.2 412.5,533.4 413.5,534.3 414.5,532.1 415.5,533.1 416.5,532.7 417.5,533.9 418.5,534.6 419.5,531.4 420.5,534.1 421.5,536.7 422.5,530.3 423.5,531.4 424.5,531.2 425.5,532.3 426.5,535.6 427.5,532.7 428.5,531.4 429.5,533.7 430.5,531.4 431.5,534.5 432.5,532.9 433.5,534.8 434.5,531.1 435.5,537.7 436.5,533.7 437.5,533.3 438.5,532.0 439.5,530.7 440.5,530.4 441.5,531.7 442.5,530.4 443.5,532.3 444.5,530.2 445.5,532.8 446.5,533.3 447.5,530.3 448.5,533.6 449.5,531.0 450.5,533.4 451.5,532.1 452.5,533.2 453.5,529.4 454.5,530.9 455.5,533.7 456.5,529.9 457.5,527.4 458.5,527.5 459.5,526.5 460.5,527.2 461.5,530.3 462.5,533.4 463.5,530.5 464.5,532.0 465.5,531.3 466.5,531.7 467.5,531.5 468.5,531.6 469.5,532.8 470.5,529.9 471.5,533.7 472.5,533.2 473.5,530.6 474.5,531.6 475.5,527.9 476.5,527.2 477.5,527.3 478.5,525.5 479.5,523.5 480.5,521.2 481.5,519.2 482.5,519.5 483.5,511.8 484.5,513.3 485.5,508.6 486.5,506.0 487.5,500.8 488.5,490.3 489.5,492.4 490.5,489.0 491.5,487.1 492.5,487.2 493.5,493.0 494.5,494.7 495.5,501.7 496.5,502.4 497.5,508.2 498.5,505.3 499.5,504.8 500.5,508.7 501.5,506.7 502.5,501.7 503.5,495.1 504.5,493.3 505.5,491.0 506.5,484.8 507.5,480.1 508.5,475.6 509.5,470.5 510.5,466.5 511.5,454.7 512.5,438.2 513.5,416.0 514.5,404.0 515.5,389.9 516.5,382.9 517.5,370.6 518.5,370.4 519.5,365.0 520.5,368.7 521.5,364.9 522.5,370.9 523.5,376.8 524.5,386.6 525.5,398.6 526.5,416.3 527.5,424.5 528.5,436.2 529.5,447.8 530.5,460.1 531.5,466.8 532.5,478.9 533.5,485.4 534.5,487.8 535.5,487.8 536.5,492.6 537.5,497.7 538.5,503.3 539.5,502.6 540.5,497.4 541.5,499.3 542.5,501.1 543.5,496.8 544.5,498.2 545.5,506.8 546.5,504.6 547.5,503.2 548.5,503.8 549.5,502.0 550.5,499.8 551.5,501.1 552.5,499.3 553.5,496.7 554.5,492.3 555.5,491.5 556.5,485.6 557.5,481.6 558.5,476.6 559.5,469.4 560.5,463.6 561.5,452.3 562.5,438.3 563.5,428.5 564.5,422.1 565.5,407.1 566.5,395.9 567.5,382.0 568.5,373.7 569.5,359.8 570.5,358.7 571.5,359.3 572.5,370.9 573.5,379.5 574.5,384.3 575.5,394.5 576.5,397.6 577.5,404.3 578.5,413.7 579.5,419.1 580.5,426.5 581.5,432.1 582.5,431.9 583.5,431.5 584.5,422.7 585.5,411.0 586.5,399.2 587.5,381.7 588.5,362.7 589.5,342.9 590.5,327.3 591.5,323.9 592.5,322.3 593.5,322.1 594.5,327.3 595.5,330.5 596.5,335.1 597.5,321.8 598.5,299.8 599.5,281.0 600.5,263.8 601.5,251.1 602.5,236.2 603.5,230.8 604.5,237.2 605.5,252.1 606.5,269.2 607.5,289.3 608.5,308.2 609.5,327.2 610.5,344.5 611.5,365.5 612.5,384.2 613.5,399.4 614.5,417.3 615.5,428.7 616.5,443.4 617.5,456.9 618.5,462.3 619.5,474.1 620.5,485.1 621.5,489.9 622.5,499.6 623.5,503.0 624.5,507.2 625.5,510.3 626.5,513.8 627.5,514.9 628.5,518.3 629.5,519.0 630.5,522.8 631.5,526.4 632.5,525.1 633.5,526.2 634.5,524.8 635.5,529.1 636.5,527.3 637.5,528.0 638.5,531.1 639.5,531.1 640.5,533.4 641.5,534.6 642.5,531.5 643.5,533.2 644.5,536.7 645.5,535.7 646.5,535.7 647.5,537.1 648.5,534.1 649.5,536.7 650.5,538.5 651.5,539.2 652.5,535.2 653.5,536.5 654.5,537.9 655.5,537.0 656.5,537.1 657.5,539.3 658.5,537.7 659.5,535.4 660.5,539.6 661.5,538.5 662.5,538.2 663.5,537.0 664.5,542.0 665.5,536.5 666.5,537.9 667.5,540.9 668.5,544.1 669.5,544.7 670.5,540.7 671.5,542.8 672.5,540.8 673.5,545.7 674.5,541.4 675.5,544.0 676.5,546.2 677.5,543.9 678.5,546.9 679.5,542.7 680.5,544.8 681.5,545.6 682.5,543.7 683.5,546.4 684.5,544.7 685.5,540.7 686.5,550.6 687.5,544.5 688.5,543.3 689.5,540.4 690.5,542.9 691.5,541.7 692.5,543.5 693.5,542.8 694.5,545.3 695.5,542.0 696.5,542.5 697.5,542.0 698.5,540.9 699.5,540.6 700.5,542.7 701.5,541.9 702.5,539.2 703.5,538.1 704.5,539.7 705.5,541.7 706.5,539.4 707.5,542.3 708.5,537.5 709.5,538.9 710.5,533.9 711.5,537.1 712.5,537.3 713.5,538.4 714.5,540.2 715.5,536.8 716.5,539.0 717.5,537.2 718.5,537.3 719.5,534.2 720.5,537.0 721.5,532.0 722.5,534.1 723.5,530.7 724.5,530.4 725.5,527.5 726.5,527.8 727.5,527.5 728.5,523.1 729.5,516.4 730.5,517.9 731.5,514.6 732.5,517.8 733.5,521.5 734.5,523.1 735.5,523.9 736.5,528.4 737.5,534.2 738.5,531.4 739.5,536.0 740.5,534.6 741.5,537.5 742.5,534.4 743.5,540.7 744.5,539.3 745.5,541.7 746.5,541.0 747.5,542.6 748.5,541.4 749.5,543.2 750.5,539.4 751.5,540.3 752.5,543.8 753.5,542.6 754.5,542.5 755.5,542.7 756.5,544.1 757.5,542.3 758.5,544.4 759.5,542.0 760.5,543.0 761.5,545.7 762.5,545.9 763.5,542.1 764.5,545.7 765.5,542.3 766.5,545.6 767.5,540.9 768.5,542.3 769.5,543.4 770.5,543.9 771.5,546.6 772.5,545.5 773.5,546.4 774.5,545.3 775.5,542.2 776.5,541.7 777.5,543.6 778.5,541.1 779.5,540.1 780.5,537.3 781.5,538.8 782.5,533.3 783.5,536.7 784.5,535.0 785.5,537.3 786.5,534.4 787.5,533.8 788.5,535.9 789.5,530.6 790.5,531.9 791.5,526.8 792.5,529.0 793.5,528.2 794.5,527.5 795.5,522.7 796.5,523.2 797.5,521.3 798.5,518.8 799.5,516.7 800.5,514.5 801.5,511.1 802.5,505.0 803.5,500.8 804.5,502.8 805.5,496.3 806.5,485.5 807.5,484.4 808.5,480.3 809.5,476.9 810.5,473.9 811.5,471.9 812.5,473.5 813.5,473.4 814.5,475.2 815.5,476.2 816.5,478.9 817.5,483.8 818.5,488.1 819.5,488.6 820.5,494.6 821.5,498.4 822.5,506.4 823.5,508.1 824.5,514.2 825.5,513.6 826.5,517.2 827.5,517.8 828.5,527.4 829.5,529.9 830.5,530.0 831.5,532.8 832.5,530.8 833.5,535.8 834.5,536.8 835.5,537.7 836.5,540.3 837.5,537.3 838.5,539.4 839.5,538.5 840.5,537.6 841.5,534.0 842.5,539.3 843.5,536.5 844.5,537.3 845.5,534.9 846.5,537.6 847.5,537.2 848.5,537.1 849.5,537.1 850.5,539.7 851.5,540.1 852.5,540.2 853.5,545.4 854.5,538.8 855.5,539.6 856.5,538.7 857.5,541.4 858.5,539.5 859.5,536.0 860.5,538.7 861.5,541.1 862.5,542.8 863.5,538.2 864.5,540.0 865.5,540.9 866.5,539.9 867.5,542.2 868.5,541.4 869.5,542.1 870.5,540.3 871.5,544.7 872.5,542.2 873.5,544.9 874.5,542.1 875.5,544.3 876.5,542.3 877.5,542.1 878.5,542.7 879.5,543.9 880.5,543.5 881.5,546.4 882.5,541.2 883.5,540.9 884.5,545.4 885.5,543.1 886.5,538.3 887.5,542.3 888.5,541.7 889.5,537.3 890.5,540.3 891.5,540.9 892.5,542.1 893.5,542.4 894.5,540.8 895.5,542.3 896.5,540.1 897.5,538.8 898.5,538.5 899.5,541.1 900.5,536.5 901.5,541.1 902.5,537.8 903.5,539.0 904.5,540.5 905.5,541.7 906.5,535.9 907.5,537.9 908.5,539.3 909.5,538.1 910.5,540.6 911.5,535.1 912.5,539.4 913.5,539.3 914.5,538.3 915.5,539.7 916.5,534.8 917.5,538.2 918.5,534.1 919.5,536.0 920.5,533.5 921.5,535.1 922.5,534.9 923.5,530.9 924.5,533.3 925.5,533.5 926.5,533.3 927.5,532.5 928.5,537.3 929.5,534.5 930.5,537.1 931.5,533.5 932.5,532.8 933.5,535.2 934.5,534.2 935.5,539.8 936.5,536.3 937.5,538.5 938.5,536.8 939.5,537.5 940.5,538.9 941.5,540.4 942.5,542.0 943.5,540.6 944.5,539.8 945.5,538.1 946.5,537.8 947.5,536.9 948.5,535.4 949.5,534.6 950.5,533.8 951.5,535.2 952.5,535.0 953.5,531.8 954.5,529.4 955.5,526.1 956.5,525.3 957.5,520.7 958.5,519.7 959.5,517.9 960.5,516.4 961.5,515.7 962.5,512.3 963.5,510.5 964.5,505.1 965.5,506.4 966.5,504.8 967.5,492.0 968.5,484.0 969.5,476.4 970.5,469.9 971.5,462.8 972.5,456.0 973.5,453.1 974.5,452.9 975.5,450.6 976.5,452.5 977.5,449.3 978.5,448.4 979.5,449.8 980.5,449.6 981.5,450.2 982.5,455.3 983.5,460.1 984.5,461.1 985.5,466.5 986.5,470.6 987.5,475.6 988.5,478.8 989.5,484.7 990.5,489.1 991.5,496.0 992.5,495.8 993.5,506.6 994.5,510.7 995.5,512.3 996.5,516.8 997.5,519.7 998.5,519.9 999.5,524.0 1000.5,527.2 1001.5,528.3 1002.5,531.5 1003.5,531.5 1004.5,532.9 1005.5,532.4 1006.5,534.0 1007.5,534.6 1008.5,539.2 1009.5,537.3 1010.5,535.7 1011.5,538.9 1012.5,538.4 1013.5,533.8 1014.5,540.6 1015.5,537.4 1016.5,541.6 1017.5,539.1 1018.5,538.4 1019.5,542.1 1020.5,538.6 1021.5,540.5 1022.5,541.7 1023.5,542.4 1024.5,542.6 1025.5,541.2 1026.5,539.7 1027.5,544.7 1028.5,540.1 1029.5,544.4 1030.5,540.3 1031.5,543.1 1032.5,542.9 1033.5,539.0 1034.5,541.5 1035.5,542.1 1036.5,542.0 1037.5,540.3 1038.5,541.1 1039.5,539.8 1040.5,538.3 1041.5,542.0 1042.5,539.0 1043.5,542.1 1044.5,540.2 1045.5,536.9 1046.5,537.5 1047.5,536.4 1048.5,534.5 1049.5,536.0 1050.5,533.3 1051.5,536.2 1052.5,534.0 1053.5,530.0 1054.5,530.8 1055.5,529.8 1056.5,526.8 1057.5,530.8 1058.5,530.4 1059.5,530.0 1060.5,527.1 1061.5,529.5 1062.5,526.8 1063.5,528.5 1064.5,529.7 1065.5,526.3 1066.5,523.0 1067.5,524.5 1068.5,525.6 1069.5,526.0 1070.5,521.0 1071.5,521.8 1072.5,521.5 1073.5,520.3 1074.5,519.0 1075.5,513.1 1076.5,511.1 1077.5,510.4 1078.5,505.6 1079.5,501.7 1080.5,498.1 1081.5,489.3 1082.5,483.0 1083.5,475.2 1084.5,466.7 1085.5,456.8 1086.5,443.8 1087.5,432.1 1088.5,424.0 1089.5,420.6 1090.5,414.3 1091.5,413.1 1092.5,412.9 1093.5,414.3 1094.5,415.9 1095.5,428.1 1096.5,433.8 1097.5,439.7 1098.5,458.2 1099.5,470.6 1100.5,478.3 1101.5,487.4 1102.5,491.9 1103.5,501.3 1104.5,507.8 1105.5,513.0 1106.5,516.0 1107.5,518.8 1108.5,522.0 1109.5,520.9 1110.5,522.5 1111.5,524.8 1112.5,525.4 1113.5,527.3 1114.5,528.8 1115.5,530.6 1116.5,528.7 1117.5,525.5 1118.5,530.1 1119.5,531.5 1120.5,531.2 1121.5,531.9 1122.5,528.4 1123.5,534.2 1124.5,533.3 1125.5,531.6 1126.5,533.3 1127.5,533.7 1128.5,536.7 1129.5,536.9 1130.5,538.8 1131.5,537.4 1132.5,533.9 1133.5,533.8 1134.5,538.3 1135.5,539.0 1136.5,535.7 1137.5,537.0 1138.5,533.1 1139.5,532.1 1140.5,533.3 1141.5,534.6 1142.5,534.0 1143.5,534.2 1144.5,533.4 1145.5,534.8 1146.5,534.1 1147.5,528.9 1148.5,529.6 1149.5,522.4 1150.5,521.2 1151.5,522.7 1152.5,521.5 1153.5,524.4 1154.5,521.3 1155.5,525.1 1156.5,523.3 1157.5,527.8 1158.5,522.6 1159.5,523.3 1160.5,524.1 1161.5,520.1 1162.5,525.2 1163.5,524.9 1164.5,524.1 1165.5,520.8 1166.5,520.2 1167.5,523.4 1168.5,523.6 1169.5,523.4 1170.5,517.9 1171.5,516.5 1172.5,516.6 1173.5,512.1 1174.5,512.4 1175.5,511.8 1176.5,509.4 1177.5,503.0 1178.5,501.6 1179.5,496.0 1180.5,492.3 1181.5,488.0 1182.5,485.0 1183.5,480.7 1184.5,477.9 1185.5,474.7 1186.5,475.0 1187.5,474.4 1188.5,472.4 1189.5,476.0 1190.5,476.7 1191.5,476.7 1192.5,483.7 1193.5,488.1 1194.5,492.9 1195.5,496.5 1196.5,497.5 1197.5,505.6 1198.5,507.7 1199.5,502.2 1200.5,507.1 1201.5,506.4 1202.5,505.3 1203.5,505.3 1204.5,505.0 1205.5,508.3 1206.5,505.4 1207.5,506.8 1208.5,508.4 1209.5,510.3 1210.5,508.1 1211.5,515.6 1212.5,516.6 1213.5,521.1 1214.5,524.8 1215.5,528.4 1216.5,531.9 1217.5,535.6 1218.5,537.3 1219.5,540.4 1220.5,540.3 1221.5,540.6 1222.5,545.5 1223.5,540.6 1224.5,541.4 1225.5,545.3 1226.5,544.9 1227.5,542.6 1228.5,545.6 1229.5,545.1 1230.5,548.4 1231.5,545.3 1232.5,548.3 1233.5,547.2 1234.5,546.0 1235.5,546.4 1236.5,547.1 1237.5,542.1 1238.5,546.8 1239.5,545.5 1240.5,549.4 1241.5,544.9 1242.5,548.1 1243.5,541.5 1244.5,547.4 1245.5,546.4 1246.5,545.5 1247.5,545.7 1248.5,545.4 1249.5,546.6 1250.5,545.6 1251.5,542.6 1252.5,545.5 1253.5,549.8 1254.5,545.9 1255.5,546.4 1256.5,545.1 1257.5,546.3 1258.5,546.3 1259.5,545.6 1260.5,547.7 1261.5,544.6 1262.5,546.1 1263.5,547.3 1264.5,546.0 1265.5,544.4 1266.5,547.7 1267.5,545.0 1268.5,546.1 1269.5,545.5 1270.5,546.9 1271.5,546.4 1272.5,546.4 1273.5,548.5 1274.5,550.5 1275.5,546.8 1276.5,548.4 1277.5,546.8 1278.5,547.7 1279.5,549.5 1280.5,547.6 1281.5,545.9 1282.5,546.0 1283.5,546.0 1284.5,546.9 1285.5,548.3 1286.5,544.1 1287.5,544.4 1288.5,544.4 1289.5,542.6 1290.5,547.8 1291.5,545.1 1292.5,548.3 1293.5,542.0 1294.5,546.6 1295.5,542.7 1296.5,543.0 1297.5,541.7 1298.5,541.5 1299.5,540.6 1300.5,543.2 1301.5,540.3 1302.5,542.1 1303.5,542.4 1304.5,543.5 1305.5,542.5 1306.5,542.9 1307.5,543.4 1308.5,542.6 1309.5,543.6 1310.5,541.5 1311.5,542.2 1312.5,547.5 1313.5,544.5 1314.5,543.8 1315.5,548.1 1316.5,545.9 1317.5,545.6 1318.5,544.8 1319.5,549.4 1320.5,546.6 1321.5,548.2 1322.5,550.9 1323.5,550.6 1324.5,550.6 1325.5,550.8 1326.5,553.7 1327.5,556.0 1328.5,551.3 1329.5,553.6 1330.5,556.2 1331.5,554.7 1332.5,551.5 1333.5,551.7 1334.5,550.9 1335.5,549.6 1336.5,549.3 1337.5,549.9 1338.5,547.3 1339.5,548.7 1340.5,546.2 1341.5,544.2 1342.5,545.4 1343.5,543.4 1344.5,542.4 1345.5,543.1 1346.5,541.8 1347.5,540.3 1348.5,542.3 1349.5,541.5 1350.5,547.0 1351.5,544.6 1352.5,545.8 1353.5,547.2 1354.5,546.2 1355.5,549.6 1356.5,548.2 1357.5,547.4 1358.5,548.3 1359.5,550.5 1360.5,547.0 1361.5,550.4 1362.5,548.9 1363.5,551.8 1364.5,549.3 1365.5,554.2 1366.5,552.4 1367.5,549.0 1368.5,554.6 1369.5,551.2 1370.5,550.4 1371.5,550.0 1372.5,553.0 1373.5,554.8 1374.5,551.2 1375.5,550.5 1376.5,550.4 1377.5,555.2 1378.5,555.6 1379.5,552.0 1380.5,553.7 1381.5,552.7 1382.5,552.7 1383.5,554.5 1384.5,553.6 1385.5,553.4 1386.5,552.3 1387.5,554.2 1388.5,552.2 1389.5,552.8 1390.5,553.1 1391.5,550.5 1392.5,552.0 1393.5,551.9 1394.5,552.6 1395.5,550.4 1396.5,550.2 1397.5,555.1 1398.5,554.2 1399.5,553.7 1400.5,555.3 1401.5,552.6 1402.5,551.6 1403.5,552.6 1404.5,548.2 1405.5,549.5 1406.5,552.8 1407.5,551.4 1408.5,548.9 1409.5,552.3 1410.5,552.9 1411.5,552.2 1412.5,550.8 1413.5,549.3 1414.5,550.9 1415.5,551.4 1416.5,549.9 1417.5,551.5 1418.5,550.9 1419.5,550.8 1420.5,546.5 1421.5,552.0 1422.5,553.0 1423.5,549.1 1424.5,547.1 1425.5,550.8 1426.5,548.7 1427.5,547.6 1428.5,551.5 1429.5,546.7 1430.5,550.3 1431.5,546.7 1432.5,551.4 1433.5,549.6 1434.5,548.1 1435.5,548.7 1436.5,549.3 1437.5,549.7 1438.5,549.5 1439.5,548.9 1440.5,546.9 1441.5,548.8 1442.5,545.1" stroke="#00ff00"/>
</g>
<g stroke="#000" stroke-width="4" fill="none">
<line x1="304.50" y1="1105" x2="304.50" y2="1126.5" /><line x1="672.30" y1="1105" x2="672.30" y2="1126.5" /><line x1="1040.10" y1="1105" x2="1040.10" y2="1126.5" /><line x1="1407.90" y1="1105" x2="1407.90" y2="1126.5" /><line x1="120.60" y1="1105" x2="120.60" y2="1115.5" /><line x1="488.40" y1="1105" x2="488.40" y2="1115.5" /><line x1="856.20" y1="1105" x2="856.20" y2="1115.5" /><line x1="1224.00" y1="1105" x2="1224.00" y2="1115.5" />
</g>
<rect x="118.3" y="35.4" width="1327" height="4.4" fill="#000"/>
<rect x="118.3" y="35.4" width="4.6" height="1073" fill="#000"/>
<g shape-rendering="crispEdges">

<rect x="118" y="1103" width="1331" height="2" fill="#4a4a4a"/>
<rect x="118" y="1105" width="1331" height="2" fill="#000"/>
<rect x="118" y="1107" width="1331" height="2" fill="#999"/>

<rect x="1442" y="36.5" width="2" height="1070" fill="#4a4a4a"/>
<rect x="1444" y="35" width="2" height="1074" fill="#000"/>
<rect x="1446" y="35" width="3" height="1074" fill="#999"/>
</g>
<g>
<text transform="translate(304.00,1184) scale(1,1.025)" text-anchor="middle" font-size="57">20</text><text transform="translate(671.80,1184) scale(1,1.025)" text-anchor="middle" font-size="57">40</text><text transform="translate(1038.20,1184) scale(1,1.025)" text-anchor="middle" font-size="57">60</text><text transform="translate(1407.10,1184) scale(1,1.025)" text-anchor="middle" font-size="57">80</text>
<text transform="translate(708.8,1264) scale(1.08,1.02)" font-size="66">2</text>
<text transform="translate(746.5,1263.8) scale(1.11,1.0)" font-size="65" style="font-family:'Liberation Serif',serif">θ</text>
<text transform="translate(800.6,1264) scale(0.987,1)" font-size="66">(deg)</text>
<text transform="translate(73,848.5) rotate(-90)" font-size="66">Line intensity (a.u.)</text>
<text transform="translate(161,107.9) scale(1,1.045)" font-size="56" fill="#ff8000">CF</text>
<text transform="translate(160,175.8) scale(1,1.045)" font-size="56">ZnO</text>
<text transform="translate(1221,514.4) scale(1,1.045)" font-size="56">CF-ZnO</text>
<text transform="translate(1027,703) scale(0.996,1.045)" font-size="56">PVDF - CF-ZnO</text>
<text transform="translate(1147.3,850.4) scale(0.996,1.045)" font-size="56">PVDF - CF</text>
<text transform="translate(1283.2,1018.7) scale(0.985,1.045)" font-size="56">PVDF</text>
<text x="0" y="0" transform="translate(487.6,457.0) rotate(-90)" fill="#ff8000" stroke="#fdfdfd" stroke-width="0.6" font-size="35.6">(220)</text><text x="0" y="0" transform="translate(525.7,340.2) rotate(-90)" fill="#14148c" stroke="#fdfdfd" stroke-width="0.6" font-size="35.6">(100)</text><text x="0" y="0" transform="translate(567.0,336.7) rotate(-90)" fill="#14148c" stroke="#fdfdfd" stroke-width="0.6" font-size="35.6">(002)</text><text x="0" y="0" transform="translate(581.8,232.6) rotate(-90)" fill="#ff8000" stroke="#fdfdfd" stroke-width="0.6" font-size="35.6">(311)</text><text x="0" y="0" transform="translate(619.7,153.8) rotate(-90)" fill="#14148c" stroke="#fdfdfd" stroke-width="0.6" font-size="35.6">(101)</text><text x="0" y="0" transform="translate(729.3,500.6) rotate(-90)" fill="#ff8000" stroke="#fdfdfd" stroke-width="0.6" font-size="35.6">(400)</text><text x="0" y="0" transform="translate(823.2,444.7) rotate(-90)" fill="#14148c" stroke="#fdfdfd" stroke-width="0.6" font-size="35.6">(102)</text><text x="0" y="0" transform="translate(990.9,438.5) rotate(-90)" fill="#ff8000" stroke="#fdfdfd" stroke-width="0.6" font-size="35.6">(511)</text><text x="0" y="0" transform="translate(981.9,340.7) rotate(-90)" fill="#14148c" stroke="#fdfdfd" stroke-width="0.6" font-size="35.6">(110)</text><text x="0" y="0" transform="translate(1101.7,393.6) rotate(-90)" fill="#ff8000" stroke="#fdfdfd" stroke-width="0.6" font-size="35.6">(440)</text><text x="0" y="0" transform="translate(1102.7,288.8) rotate(-90)" fill="#14148c" stroke="#fdfdfd" stroke-width="0.6" font-size="35.6">(103)</text><text x="0" y="0" transform="translate(1166.0,461.2) rotate(-90)" fill="#14148c" stroke="#fdfdfd" stroke-width="0.6" font-size="35.6">(200)</text><text x="0" y="0" transform="translate(1199.6,342.4) rotate(-90)" fill="#14148c" stroke="#fdfdfd" stroke-width="0.6" font-size="35.6">(112)</text><text x="0" y="0" transform="translate(1232.4,448.3) rotate(-90)" fill="#14148c" stroke="#fdfdfd" stroke-width="0.6" font-size="35.6">(201)</text>
</g>
</svg>
</body></html>
